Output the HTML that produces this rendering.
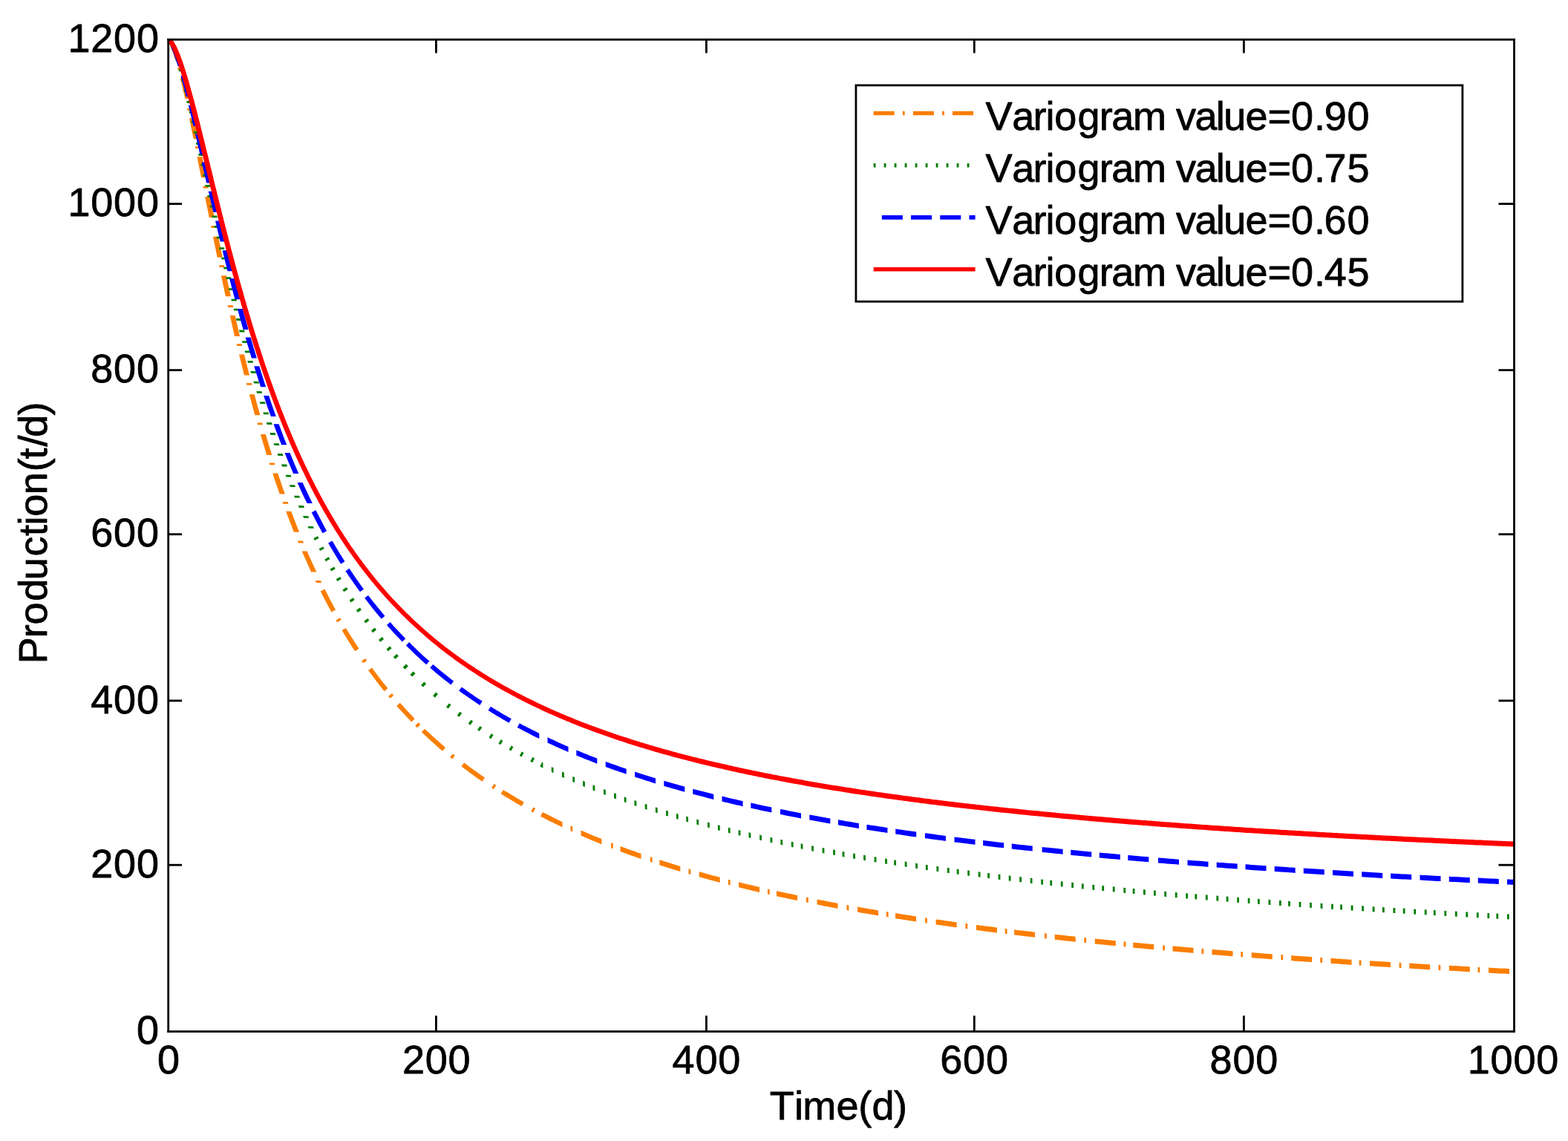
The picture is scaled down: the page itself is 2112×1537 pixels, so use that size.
<!DOCTYPE html>
<html lang="en">
<head>
<meta charset="utf-8">
<title>Production vs Time for different variogram values</title>
<style>
html,body{margin:0;padding:0;background:#fff;}
body{width:2112px;height:1537px;overflow:hidden;}
svg{display:block;position:absolute;left:0;top:0;}
text{font-family:"Liberation Sans",Arial,Helvetica,sans-serif;font-size:54.0px;fill:#000;stroke:#000;stroke-width:0.8px;stroke-linejoin:round;}
.cv{fill:none;stroke-linejoin:round;stroke-linecap:butt;}
.lg{fill:none;stroke-linecap:butt;}
</style>
</head>
<body>
<svg width="2112" height="1537" viewBox="0 0 2112 1537">
<rect x="0" y="0" width="2112" height="1537" fill="#ffffff"/>
<defs><clipPath id="plotclip"><rect x="226.7" y="53.3" width="1812.8" height="1336.2"/></clipPath></defs>
<g id="curves" clip-path="url(#plotclip)">
<path id="curve-orange" fill="#fb7e00" d="M226.7,49.8L232.7,54.9L235.0,59.0L236.9,63.0L238.4,67.0L239.9,70.9L241.2,74.8L242.7,79.7L235.7,79.7L234.8,76.8L233.6,73.0L232.2,69.3L230.8,65.5L229.2,61.8L227.4,58.3L226.7,56.8ZM246.0,91.1L246.8,93.9L239.8,93.9L239.0,91.1ZM249.6,105.0L250.4,108.2L251.4,112.2L252.4,116.2L253.3,120.2L254.2,124.3L255.1,128.3L256.2,133.0L249.2,133.0L248.5,129.8L247.6,125.8L246.6,121.8L245.7,117.8L244.8,113.8L243.8,109.8L242.6,105.0ZM259.1,146.1L259.7,148.9L252.7,148.9L252.1,146.1ZM261.9,159.3L262.6,162.6L263.4,166.6L264.2,170.6L265.1,174.6L265.9,178.6L266.7,182.6L267.7,187.3L260.7,187.3L260.0,184.0L259.2,180.0L258.3,176.0L257.5,172.0L256.7,168.0L255.9,164.0L254.9,159.3ZM269.7,197.3L270.3,200.1L263.2,200.1L262.7,197.3ZM272.5,211.3L273.1,214.6L273.9,218.6L274.7,222.6L275.5,226.6L276.3,230.6L277.1,234.6L278.0,239.3L271.0,239.3L270.4,235.9L269.6,231.9L268.8,227.9L268.0,223.9L267.2,219.9L266.4,215.9L265.5,211.3ZM280.3,250.8L280.9,253.6L273.9,253.6L273.3,250.8ZM283.2,265.0L283.8,268.3L284.6,272.3L285.4,276.3L286.2,280.3L287.0,284.3L287.8,288.3L288.8,293.0L281.7,293.0L281.1,289.7L280.3,285.7L279.5,281.7L278.7,277.7L277.9,273.7L277.1,269.7L276.2,265.0ZM291.0,304.2L291.6,307.0L284.6,307.0L284.0,304.2ZM294.0,318.8L294.6,322.1L295.5,326.1L296.3,330.1L297.1,334.1L297.9,338.1L298.7,342.1L299.7,346.8L292.7,346.8L292.0,343.4L291.2,339.4L290.4,335.4L289.6,331.4L288.7,327.4L287.9,323.4L287.0,318.8ZM301.9,357.2L302.5,360.0L295.5,360.0L294.9,357.2ZM304.9,371.3L305.6,374.5L306.4,378.5L307.3,382.5L308.2,386.5L309.0,390.5L309.9,394.5L310.9,399.3L303.9,399.3L303.2,396.0L302.3,392.0L301.5,388.0L300.6,384.0L299.7,380.0L298.9,376.0L297.9,371.3ZM313.6,411.2L314.2,414.0L307.2,414.0L306.6,411.2ZM316.7,425.0L317.4,428.2L318.3,432.2L319.2,436.2L320.2,440.2L321.1,444.2L322.0,448.2L323.1,453.0L316.1,453.0L315.4,449.8L314.4,445.8L313.5,441.8L312.6,437.8L311.7,433.8L310.8,429.8L309.7,425.0ZM325.6,463.2L326.2,466.0L319.2,466.0L318.6,463.2ZM329.0,477.5L329.8,480.7L330.8,484.7L331.8,488.7L332.8,492.7L333.8,496.7L334.8,500.7L336.0,505.5L329.0,505.5L328.2,502.3L327.2,498.3L326.2,494.3L325.2,490.3L324.2,486.3L323.2,482.3L322.0,477.5ZM338.7,515.9L339.4,518.7L332.4,518.7L331.7,515.9ZM342.7,531.2L343.6,534.4L344.6,538.4L345.7,542.4L346.8,546.4L347.9,550.3L349.0,554.3L350.4,559.2L343.4,559.2L342.5,556.2L341.4,552.2L340.3,548.1L339.2,544.1L338.1,540.1L337.0,536.1L335.7,531.2ZM353.3,569.5L354.1,572.3L347.1,572.3L346.3,569.5ZM357.8,585.0L358.7,588.0L359.9,592.0L361.1,596.0L362.3,600.0L363.5,604.0L364.8,608.0L366.3,613.0L359.3,613.0L358.4,610.0L357.1,606.0L355.9,602.0L354.7,598.0L353.5,594.0L352.3,590.0L350.8,585.0ZM369.6,623.5L370.5,626.3L363.5,626.3L362.6,623.5ZM374.2,637.5L375.2,640.4L376.5,644.4L377.9,648.4L379.2,652.4L380.6,656.4L382.0,660.4L383.8,665.5L376.7,665.5L375.7,662.6L374.3,658.6L372.9,654.6L371.5,650.6L370.2,646.6L368.8,642.6L367.2,637.5ZM387.5,675.9L388.5,678.7L381.4,678.7L380.4,675.9ZM392.2,688.8L393.3,691.6L394.8,695.6L396.3,699.6L397.8,703.6L399.4,707.5L401.0,711.5L403.0,716.8L396.0,716.8L394.8,714.0L393.3,710.0L391.7,705.9L390.1,701.9L388.6,697.9L387.1,693.9L385.1,688.8ZM407.9,728.6L409.0,731.4L401.9,731.4L400.8,728.6ZM413.7,742.5L414.9,745.2L416.6,749.2L418.4,753.2L420.2,757.2L422.0,761.2L423.8,765.1L426.3,770.5L419.1,770.5L417.9,767.9L416.1,763.8L414.3,759.8L412.5,755.8L410.7,751.8L408.9,747.8L406.6,742.5ZM431.8,782.1L433.1,784.9L426.0,784.9L424.6,782.1ZM437.4,793.6L439.4,797.5L441.5,801.5L443.5,805.5L445.6,809.5L447.7,813.5L449.9,817.5L452.0,821.5L446.4,824.5L444.3,820.5L442.1,816.5L440.0,812.5L437.8,808.5L435.8,804.5L433.7,800.5L431.7,796.4ZM458.0,832.3L459.6,835.1L454.1,838.2L452.5,835.4ZM465.9,845.9L468.3,849.9L470.7,853.9L473.2,857.8L475.7,861.8L478.2,865.8L480.8,869.8L483.4,873.8L478.2,877.2L475.5,873.2L472.9,869.2L470.4,865.2L467.9,861.2L465.4,857.1L462.9,853.1L460.5,849.1ZM492.2,887.0L494.2,889.8L489.1,893.3L487.1,890.5ZM501.0,899.4L504.0,903.4L506.9,907.4L509.9,911.4L513.0,915.4L516.0,919.4L519.2,923.3L522.4,927.3L517.6,931.2L514.4,927.2L511.2,923.1L508.1,919.1L505.0,915.1L502.0,911.1L499.0,907.1L496.0,903.1ZM527.8,933.9L530.2,936.7L525.5,940.7L523.1,937.9ZM538.8,946.7L542.0,950.3L545.2,953.9L548.5,957.5L551.8,961.0L555.2,964.6L558.6,968.2L554.2,972.4L550.8,968.8L547.3,965.2L544.0,961.6L540.7,958.0L537.4,954.4L534.2,950.8ZM563.5,973.2L566.3,975.9L562.0,980.3L559.2,977.5ZM572.1,981.7L576.1,985.5L580.1,989.3L584.1,992.9L588.0,996.6L592.0,1000.1L596.0,1003.6L600.0,1007.0L596.0,1011.7L592.0,1008.2L588.0,1004.7L584.0,1001.1L579.9,997.4L575.9,993.7L571.9,989.9L567.9,986.1ZM610.0,1015.4L612.8,1017.7L608.9,1022.4L606.1,1020.1ZM625.1,1027.4L628.6,1030.1L632.1,1032.7L635.6,1035.3L639.1,1037.8L642.6,1040.3L646.0,1042.8L649.5,1045.2L653.0,1047.6L649.5,1052.8L646.0,1050.3L642.5,1047.9L638.9,1045.3L635.4,1042.8L631.9,1040.2L628.4,1037.6L624.9,1035.0L621.4,1032.3ZM665.5,1056.0L668.3,1057.8L664.9,1063.1L662.1,1061.2ZM677.9,1063.9L681.9,1066.4L685.9,1068.8L689.9,1071.2L693.9,1073.6L697.8,1075.9L701.8,1078.2L705.8,1080.5L702.7,1086.0L698.7,1083.7L694.7,1081.4L690.6,1079.0L686.6,1076.6L682.6,1074.2L678.6,1071.8L674.6,1069.3ZM718.3,1087.4L721.1,1088.9L718.1,1094.5L715.3,1093.0ZM731.0,1094.1L735.0,1096.1L738.9,1098.1L742.9,1100.1L746.9,1102.1L750.9,1104.0L754.9,1105.9L757.5,1107.2L757.5,1114.3L752.1,1111.7L748.1,1109.8L744.1,1107.8L740.1,1105.9L736.1,1103.8L732.0,1101.8L728.0,1099.7ZM768.4,1112.2L771.2,1113.5L771.2,1120.6L768.4,1119.3ZM782.5,1118.5L787.8,1120.8L791.8,1122.5L795.8,1124.2L799.8,1125.9L803.7,1127.5L807.7,1129.1L810.5,1130.2L810.5,1137.3L805.3,1135.2L801.3,1133.6L797.2,1131.9L793.2,1130.2L789.2,1128.5L785.2,1126.8L782.5,1125.6ZM823.1,1135.2L825.9,1136.3L825.9,1143.3L823.1,1142.3ZM835.5,1139.9L840.6,1141.8L844.6,1143.3L848.6,1144.7L852.6,1146.1L856.6,1147.5L860.6,1148.9L863.5,1149.9L863.5,1157.0L858.4,1155.2L854.4,1153.8L850.4,1152.4L846.4,1150.9L842.4,1149.5L838.4,1148.0L835.5,1147.0ZM875.8,1154.1L878.6,1155.0L878.6,1162.1L875.8,1161.1ZM888.3,1158.2L893.3,1159.8L897.3,1161.0L901.2,1162.3L905.2,1163.5L909.2,1164.7L913.2,1166.0L916.3,1166.9L916.3,1173.9L911.3,1172.4L907.3,1171.2L903.3,1169.9L899.3,1168.7L895.2,1167.4L891.2,1166.2L888.3,1165.2ZM927.5,1170.2L930.3,1171.0L930.3,1178.0L927.5,1177.2ZM941.7,1174.3L946.7,1175.6L950.6,1176.7L954.6,1177.8L958.6,1178.9L962.6,1180.0L966.6,1181.0L969.7,1181.8L969.7,1188.9L964.9,1187.6L960.9,1186.5L956.9,1185.4L952.9,1184.3L948.9,1183.2L944.8,1182.1L941.7,1181.3ZM980.8,1184.7L983.6,1185.4L983.6,1192.4L980.8,1191.7ZM995.0,1188.3L999.8,1189.4L1003.8,1190.4L1007.8,1191.4L1011.8,1192.3L1015.8,1193.3L1019.8,1194.2L1023.0,1195.0L1023.0,1202.0L1018.2,1200.9L1014.2,1199.9L1010.2,1199.0L1006.2,1198.0L1002.2,1197.0L998.2,1196.1L995.0,1195.3ZM1033.9,1197.4L1036.7,1198.1L1036.7,1205.1L1033.9,1204.5ZM1046.0,1200.1L1050.7,1201.2L1054.7,1202.0L1058.7,1202.9L1062.7,1203.8L1066.7,1204.6L1070.7,1205.4L1074.0,1206.1L1074.0,1213.1L1069.3,1212.2L1065.3,1211.3L1061.3,1210.5L1057.3,1209.6L1053.3,1208.7L1049.3,1207.9L1046.0,1207.2ZM1086.0,1208.6L1088.8,1209.1L1088.8,1216.1L1086.0,1215.6ZM1100.5,1211.5L1105.2,1212.4L1109.2,1213.1L1113.2,1213.9L1117.2,1214.7L1121.2,1215.4L1125.2,1216.2L1128.5,1216.8L1128.5,1223.8L1123.9,1222.9L1119.9,1222.2L1115.9,1221.4L1111.9,1220.7L1107.9,1219.9L1103.9,1219.1L1100.5,1218.5ZM1140.5,1219.0L1143.3,1219.5L1143.3,1226.5L1140.5,1226.0ZM1155.0,1221.6L1159.6,1222.4L1163.6,1223.1L1167.6,1223.8L1171.6,1224.4L1175.6,1225.1L1179.6,1225.8L1183.0,1226.4L1183.0,1233.4L1178.4,1232.6L1174.4,1231.9L1170.4,1231.2L1166.4,1230.6L1162.4,1229.9L1158.4,1229.2L1155.0,1228.6ZM1193.8,1228.1L1196.6,1228.6L1196.6,1235.6L1193.8,1235.1ZM1206.0,1230.1L1210.6,1230.8L1214.6,1231.5L1218.6,1232.1L1222.6,1232.7L1226.6,1233.3L1230.6,1233.9L1234.0,1234.5L1234.0,1241.5L1229.5,1240.8L1225.5,1240.2L1221.5,1239.5L1217.5,1238.9L1213.5,1238.3L1209.5,1237.7L1206.0,1237.1ZM1246.1,1236.3L1248.9,1236.7L1248.9,1243.7L1246.1,1243.3ZM1260.6,1238.4L1265.1,1239.0L1269.1,1239.6L1273.1,1240.2L1277.1,1240.7L1281.1,1241.3L1285.1,1241.9L1288.6,1242.3L1288.6,1249.3L1284.1,1248.7L1280.1,1248.2L1276.1,1247.6L1272.1,1247.0L1268.1,1246.5L1264.1,1245.9L1260.6,1245.4ZM1300.4,1243.9L1303.2,1244.3L1303.2,1251.3L1300.4,1250.9ZM1314.9,1245.9L1319.4,1246.5L1323.4,1247.0L1327.4,1247.5L1331.4,1248.0L1335.4,1248.5L1339.4,1249.0L1342.9,1249.5L1342.9,1256.5L1338.5,1255.9L1334.5,1255.4L1330.5,1254.9L1326.5,1254.4L1322.5,1253.9L1318.5,1253.3L1314.9,1252.9ZM1353.7,1250.8L1356.5,1251.2L1356.5,1258.2L1353.7,1257.8ZM1366.1,1252.3L1370.6,1252.9L1374.6,1253.4L1378.6,1253.8L1382.6,1254.3L1386.6,1254.8L1390.5,1255.2L1394.1,1255.7L1394.1,1262.7L1389.7,1262.1L1385.7,1261.7L1381.7,1261.2L1377.7,1260.7L1373.7,1260.3L1369.7,1259.8L1366.1,1259.3ZM1407.0,1257.1L1409.8,1257.4L1409.8,1264.4L1407.0,1264.1ZM1420.7,1258.7L1425.1,1259.2L1429.1,1259.6L1433.1,1260.0L1437.1,1260.5L1441.1,1260.9L1445.1,1261.3L1448.7,1261.7L1448.7,1268.7L1444.4,1268.2L1440.4,1267.8L1436.4,1267.4L1432.4,1266.9L1428.3,1266.5L1424.3,1266.1L1420.7,1265.7ZM1460.3,1262.9L1463.1,1263.2L1463.1,1270.2L1460.3,1269.9ZM1474.8,1264.4L1479.2,1264.9L1483.2,1265.3L1487.2,1265.7L1491.2,1266.1L1495.2,1266.5L1499.2,1266.9L1502.8,1267.2L1502.8,1274.2L1498.5,1273.8L1494.5,1273.4L1490.5,1273.0L1486.5,1272.6L1482.5,1272.2L1478.5,1271.8L1474.8,1271.4ZM1513.6,1268.3L1516.4,1268.6L1516.4,1275.6L1513.6,1275.3ZM1526.2,1269.5L1530.6,1269.9L1534.6,1270.3L1538.6,1270.7L1542.6,1271.0L1546.6,1271.4L1550.6,1271.8L1554.2,1272.1L1554.2,1279.1L1549.9,1278.7L1545.9,1278.4L1541.9,1278.0L1537.9,1277.6L1533.9,1277.2L1529.9,1276.9L1526.2,1276.5ZM1566.2,1273.2L1569.0,1273.5L1569.0,1280.5L1566.2,1280.2ZM1579.5,1274.4L1583.8,1274.8L1587.8,1275.1L1591.8,1275.5L1595.8,1275.8L1599.8,1276.2L1603.8,1276.5L1607.5,1276.8L1607.5,1283.8L1603.2,1283.4L1599.2,1283.1L1595.2,1282.8L1591.2,1282.4L1587.2,1282.1L1583.2,1281.7L1579.5,1281.4ZM1618.4,1277.7L1621.2,1278.0L1621.2,1285.0L1618.4,1284.7ZM1632.5,1278.9L1636.3,1279.2L1639.8,1279.5L1643.3,1279.8L1646.8,1280.1L1650.3,1280.3L1653.8,1280.6L1657.3,1280.9L1660.5,1281.2L1660.5,1288.2L1656.7,1287.9L1653.2,1287.6L1649.7,1287.3L1646.2,1287.0L1642.7,1286.7L1639.2,1286.4L1635.7,1286.2L1632.5,1285.9ZM1671.3,1282.0L1674.1,1282.2L1674.1,1289.2L1671.3,1289.0ZM1685.8,1283.1L1690.0,1283.5L1694.0,1283.8L1698.0,1284.1L1702.0,1284.4L1706.0,1284.7L1710.0,1285.0L1713.8,1285.2L1713.8,1292.2L1709.5,1291.9L1705.5,1291.6L1701.5,1291.3L1697.5,1291.0L1693.5,1290.7L1689.5,1290.4L1685.8,1290.1ZM1725.4,1286.1L1728.2,1286.3L1728.2,1293.3L1725.4,1293.1ZM1739.2,1287.1L1743.5,1287.4L1747.5,1287.7L1751.5,1288.0L1755.5,1288.3L1759.5,1288.5L1763.5,1288.8L1767.2,1289.1L1767.2,1296.1L1763.0,1295.8L1759.0,1295.5L1755.0,1295.2L1751.0,1294.9L1747.0,1294.7L1743.0,1294.4L1739.2,1294.1ZM1778.3,1289.8L1781.1,1290.0L1781.1,1297.0L1778.3,1296.8ZM1792.5,1290.8L1796.7,1291.1L1800.7,1291.4L1804.7,1291.6L1808.7,1291.9L1812.7,1292.2L1816.7,1292.4L1820.5,1292.7L1820.5,1299.7L1816.3,1299.4L1812.3,1299.1L1808.3,1298.9L1804.3,1298.6L1800.3,1298.3L1796.3,1298.1L1792.5,1297.8ZM1830.7,1293.3L1833.5,1293.5L1833.5,1300.5L1830.7,1300.3ZM1845.0,1294.2L1849.2,1294.5L1853.2,1294.8L1857.2,1295.0L1861.2,1295.3L1865.2,1295.5L1869.2,1295.8L1873.0,1296.0L1873.0,1303.0L1868.8,1302.7L1864.8,1302.5L1860.8,1302.2L1856.8,1302.0L1852.8,1301.7L1848.8,1301.5L1845.0,1301.2ZM1884.6,1296.7L1887.4,1296.9L1887.4,1303.9L1884.6,1303.7ZM1898.2,1297.5L1902.5,1297.8L1906.5,1298.0L1910.5,1298.2L1914.5,1298.5L1918.5,1298.7L1922.5,1298.9L1926.2,1299.2L1926.2,1306.2L1922.0,1305.9L1918.0,1305.7L1914.0,1305.5L1910.0,1305.2L1906.0,1305.0L1902.0,1304.7L1898.2,1304.5ZM1937.5,1299.8L1940.3,1300.0L1940.3,1307.0L1937.5,1306.8ZM1951.8,1300.6L1955.9,1300.9L1959.9,1301.1L1963.9,1301.3L1967.9,1301.5L1971.9,1301.7L1975.9,1302.0L1979.8,1302.2L1979.8,1309.2L1975.6,1308.9L1971.6,1308.7L1967.6,1308.5L1963.6,1308.3L1959.6,1308.1L1955.6,1307.8L1951.8,1307.6ZM1990.5,1302.8L1993.3,1302.9L1993.3,1309.9L1990.5,1309.8ZM2005.0,1303.5L2009.2,1303.8L2013.2,1304.0L2017.2,1304.2L2021.2,1304.4L2025.2,1304.6L2029.2,1304.8L2033.0,1305.0L2033.0,1312.0L2028.8,1311.8L2024.8,1311.6L2020.8,1311.4L2016.8,1311.2L2012.8,1311.0L2008.8,1310.7L2005.0,1310.5Z"/>
<path id="curve-green" fill="#007e00" d="M226.7,49.8L231.4,53.2L226.6,57.0L226.7,56.8ZM238.1,65.6L239.2,68.4L232.1,68.4L231.0,65.6ZM243.2,80.0L244.1,82.8L237.1,82.8L236.2,80.0ZM247.3,93.5L248.1,96.3L241.1,96.3L240.3,93.5ZM250.9,106.8L251.7,109.6L244.6,109.6L243.9,106.8ZM254.6,121.1L255.2,123.9L248.2,123.9L247.5,121.1ZM258.2,136.1L258.8,138.9L251.8,138.9L251.2,136.1ZM261.4,149.8L262.0,152.6L255.0,152.6L254.4,149.8ZM264.4,163.1L265.0,165.9L258.0,165.9L257.4,163.1ZM267.5,177.1L268.1,179.9L261.1,179.9L260.5,177.1ZM270.8,192.1L271.4,194.9L264.4,194.9L263.8,192.1ZM274.1,207.1L274.7,209.9L267.7,209.9L267.1,207.1ZM277.1,221.0L277.7,223.8L270.7,223.8L270.1,221.0ZM280.1,235.0L280.7,237.8L273.7,237.8L273.1,235.0ZM283.1,248.9L283.7,251.7L276.7,251.7L276.1,248.9ZM286.1,262.9L286.8,265.7L279.8,265.7L279.1,262.9ZM289.2,276.7L289.8,279.5L282.8,279.5L282.2,276.7ZM292.2,290.4L292.8,293.2L285.8,293.2L285.2,290.4ZM295.2,304.1L295.8,306.9L288.8,306.9L288.2,304.1ZM298.5,318.7L299.1,321.5L292.1,321.5L291.5,318.7ZM301.8,333.2L302.4,336.0L295.4,336.0L294.8,333.2ZM304.9,346.7L305.5,349.5L298.5,349.5L297.9,346.7ZM307.9,359.7L308.6,362.5L301.6,362.5L300.9,359.7ZM311.1,373.2L311.8,376.0L304.8,376.0L304.1,373.2ZM314.7,388.3L315.4,391.1L308.4,391.1L307.7,388.3ZM318.3,402.7L319.0,405.5L311.9,405.5L311.3,402.7ZM321.6,415.8L322.3,418.6L315.3,418.6L314.5,415.8ZM324.9,429.1L325.7,431.9L318.7,431.9L317.9,429.1ZM329.0,444.6L329.7,447.4L322.7,447.4L322.0,444.6ZM332.9,459.2L333.6,462.0L326.6,462.0L325.9,459.2ZM336.5,472.5L337.3,475.3L330.3,475.3L329.5,472.5ZM340.3,485.9L341.0,488.7L334.0,488.7L333.2,485.9ZM344.3,500.0L345.1,502.8L338.1,502.8L337.3,500.0ZM348.3,513.7L349.1,516.5L342.1,516.5L341.3,513.7ZM352.3,527.0L353.2,529.8L346.2,529.8L345.3,527.0ZM356.7,541.2L357.6,544.0L350.6,544.0L349.7,541.2ZM361.3,555.4L362.2,558.2L355.1,558.2L354.2,555.4ZM365.8,569.1L366.7,571.9L359.7,571.9L358.8,569.1ZM370.5,583.1L371.5,585.9L364.4,585.9L363.5,583.1ZM375.5,597.3L376.5,600.1L369.5,600.1L368.5,597.3ZM380.5,611.1L381.6,613.9L374.5,613.9L373.5,611.1ZM385.9,625.6L387.0,628.4L380.0,628.4L378.9,625.6ZM391.4,639.7L392.6,642.5L385.5,642.5L384.4,639.7ZM396.9,653.3L398.1,656.1L391.0,656.1L389.8,653.3ZM403.0,667.8L404.2,670.6L397.1,670.6L395.9,667.8ZM408.8,681.1L410.0,683.9L402.9,683.9L401.7,681.1ZM415.0,695.0L416.3,697.8L409.2,697.8L407.9,695.0ZM421.6,709.0L423.0,711.8L415.8,711.8L414.5,709.0ZM428.1,722.3L429.5,725.1L423.8,728.0L422.4,725.1ZM435.3,736.2L436.7,739.0L431.1,742.0L429.6,739.2ZM442.8,750.3L444.4,753.1L438.8,756.2L437.3,753.4ZM450.1,763.4L451.7,766.2L446.3,769.4L444.6,766.5ZM458.1,777.0L459.8,779.8L454.4,783.1L452.7,780.3ZM466.7,791.1L468.5,793.9L463.2,797.2L461.4,794.4ZM475.8,805.2L477.7,808.0L472.5,811.5L470.6,808.6ZM484.9,818.6L486.9,821.4L481.8,825.0L479.9,822.1ZM495.3,833.0L497.4,835.8L492.4,839.5L490.3,836.7ZM504.8,845.6L507.0,848.4L502.2,852.2L500.0,849.4ZM514.7,858.1L517.0,860.9L512.3,864.8L510.0,862.0ZM525.1,870.4L527.5,873.2L522.9,877.2L520.4,874.4ZM534.3,880.9L536.9,883.7L532.4,887.8L529.8,885.0ZM547.1,894.6L549.8,897.4L545.4,901.7L542.7,898.8ZM556.7,904.4L559.5,907.2L555.2,911.5L552.4,908.7ZM571.3,918.5L574.1,921.0L570.0,925.5L567.1,922.9ZM587.1,932.6L589.9,935.0L585.9,939.7L583.1,937.2ZM604.8,947.4L607.6,949.6L603.8,954.4L601.0,952.2ZM619.4,958.8L622.2,960.8L618.5,965.8L615.7,963.7ZM634.3,969.7L637.1,971.6L633.5,976.7L630.7,974.7ZM646.5,978.1L649.3,980.0L645.8,985.1L643.0,983.2ZM661.8,988.2L664.6,989.9L661.3,995.2L658.5,993.4ZM674.7,996.2L677.4,997.8L674.2,1003.2L671.4,1001.5ZM688.7,1004.4L691.5,1006.0L688.3,1011.5L685.5,1009.9ZM702.8,1012.4L705.6,1013.9L702.6,1019.5L699.8,1018.0ZM717.3,1020.1L720.1,1021.6L717.1,1027.3L714.3,1025.8ZM730.1,1026.7L731.4,1027.3L731.4,1034.5L727.2,1032.4ZM742.8,1032.9L745.5,1034.2L745.5,1041.3L742.8,1040.0ZM757.0,1039.5L759.8,1040.8L759.8,1047.9L757.0,1046.7ZM771.3,1045.9L774.1,1047.1L774.1,1054.2L771.3,1053.0ZM785.1,1051.8L787.9,1053.0L787.9,1060.1L785.1,1058.9ZM798.5,1057.3L801.3,1058.4L801.3,1065.5L798.5,1064.4ZM813.0,1063.0L815.8,1064.0L815.8,1071.1L813.0,1070.0ZM827.1,1068.3L829.9,1069.3L829.9,1076.4L827.1,1075.3ZM840.7,1073.2L843.5,1074.2L843.5,1081.2L840.7,1080.3ZM854.5,1078.0L857.3,1079.0L857.3,1086.0L854.5,1085.1ZM868.7,1082.8L871.5,1083.7L871.5,1090.7L868.7,1089.8ZM882.9,1087.3L885.7,1088.2L885.7,1095.3L882.9,1094.4ZM897.1,1091.7L899.9,1092.6L899.9,1099.6L897.1,1098.8ZM910.9,1095.8L913.7,1096.7L913.7,1103.7L910.9,1102.9ZM924.2,1099.7L927.0,1100.5L927.0,1107.5L924.2,1106.7ZM938.3,1103.6L941.1,1104.4L941.1,1111.4L938.3,1110.6ZM953.0,1107.6L955.8,1108.3L955.8,1115.3L953.0,1114.6ZM966.9,1111.2L969.7,1111.9L969.7,1118.9L966.9,1118.2ZM980.8,1114.7L983.6,1115.4L983.6,1122.4L980.8,1121.7ZM994.6,1118.0L997.4,1118.7L997.4,1125.7L994.6,1125.0ZM1008.5,1121.3L1011.3,1122.0L1011.3,1129.0L1008.5,1128.3ZM1023.1,1124.6L1025.9,1125.2L1025.9,1132.3L1023.1,1131.6ZM1037.5,1127.8L1040.3,1128.4L1040.3,1135.4L1037.5,1134.8ZM1051.4,1130.8L1054.2,1131.4L1054.2,1138.4L1051.4,1137.8ZM1065.8,1133.8L1068.6,1134.3L1068.6,1141.4L1065.8,1140.8ZM1078.6,1136.3L1081.4,1136.9L1081.4,1143.9L1078.6,1143.3ZM1093.1,1139.2L1095.9,1139.7L1095.9,1146.7L1093.1,1146.2ZM1107.6,1141.9L1110.4,1142.5L1110.4,1149.5L1107.6,1148.9ZM1122.1,1144.6L1124.9,1145.1L1124.9,1152.1L1122.1,1151.6ZM1134.6,1146.9L1137.4,1147.4L1137.4,1154.4L1134.6,1153.9ZM1149.1,1149.4L1151.9,1149.9L1151.9,1156.9L1149.1,1156.4ZM1163.1,1151.8L1165.9,1152.2L1165.9,1159.2L1163.1,1158.8ZM1177.6,1154.2L1180.4,1154.6L1180.4,1161.6L1177.6,1161.2ZM1192.1,1156.5L1194.9,1156.9L1194.9,1163.9L1192.1,1163.5ZM1204.2,1158.4L1207.0,1158.8L1207.0,1165.8L1204.2,1165.4ZM1218.7,1160.6L1221.5,1161.0L1221.5,1168.0L1218.7,1167.6ZM1233.1,1162.8L1235.9,1163.2L1235.9,1170.2L1233.1,1169.8ZM1246.9,1164.8L1249.7,1165.2L1249.7,1172.2L1246.9,1171.8ZM1261.4,1166.8L1264.2,1167.2L1264.2,1174.2L1261.4,1173.8ZM1275.9,1168.8L1278.7,1169.2L1278.7,1176.2L1275.9,1175.8ZM1288.7,1170.6L1291.5,1170.9L1291.5,1177.9L1288.7,1177.6ZM1303.2,1172.5L1306.0,1172.8L1306.0,1179.8L1303.2,1179.5ZM1317.7,1174.3L1320.5,1174.7L1320.5,1181.7L1317.7,1181.3ZM1330.2,1175.9L1333.0,1176.3L1333.0,1183.3L1330.2,1182.9ZM1344.6,1177.7L1347.4,1178.0L1347.4,1185.0L1344.6,1184.7ZM1358.7,1179.4L1361.5,1179.7L1361.5,1186.7L1358.7,1186.4ZM1373.2,1181.1L1376.0,1181.4L1376.0,1188.4L1373.2,1188.1ZM1387.7,1182.7L1390.5,1183.1L1390.5,1190.1L1387.7,1189.7ZM1402.2,1184.4L1405.0,1184.7L1405.0,1191.7L1402.2,1191.4ZM1414.3,1185.7L1417.1,1186.0L1417.1,1193.0L1414.3,1192.7ZM1428.8,1187.3L1431.6,1187.6L1431.6,1194.6L1428.8,1194.3ZM1443.2,1188.8L1446.0,1189.1L1446.0,1196.1L1443.2,1195.8ZM1456.9,1190.2L1459.7,1190.5L1459.7,1197.5L1456.9,1197.2ZM1471.4,1191.7L1474.2,1191.9L1474.2,1198.9L1471.4,1198.7ZM1484.3,1192.9L1487.1,1193.2L1487.1,1200.2L1484.3,1199.9ZM1498.8,1194.3L1501.6,1194.6L1501.6,1201.6L1498.8,1201.3ZM1513.3,1195.7L1516.1,1196.0L1516.1,1203.0L1513.3,1202.7ZM1525.7,1196.9L1528.5,1197.1L1528.5,1204.1L1525.7,1203.9ZM1540.0,1198.2L1542.8,1198.4L1542.8,1205.4L1540.0,1205.2ZM1554.0,1199.4L1556.8,1199.7L1556.8,1206.7L1554.0,1206.4ZM1568.3,1200.7L1571.1,1200.9L1571.1,1207.9L1568.3,1207.7ZM1582.8,1201.9L1585.6,1202.2L1585.6,1209.2L1582.8,1208.9ZM1597.3,1203.2L1600.1,1203.4L1600.1,1210.4L1597.3,1210.2ZM1609.4,1204.2L1612.2,1204.4L1612.2,1211.4L1609.4,1211.2ZM1623.9,1205.4L1626.7,1205.6L1626.7,1212.6L1623.9,1212.4ZM1638.4,1206.5L1641.2,1206.7L1641.2,1213.7L1638.4,1213.5ZM1651.7,1207.6L1654.5,1207.8L1654.5,1214.8L1651.7,1214.6ZM1666.2,1208.7L1669.0,1208.9L1669.0,1215.9L1666.2,1215.7ZM1680.7,1209.8L1683.5,1210.0L1683.5,1217.0L1680.7,1216.8ZM1694.0,1210.8L1696.8,1211.0L1696.8,1218.0L1694.0,1217.8ZM1708.5,1211.8L1711.3,1212.0L1711.3,1219.0L1708.5,1218.8ZM1723.0,1212.9L1725.8,1213.1L1725.8,1220.1L1723.0,1219.9ZM1735.1,1213.7L1737.9,1213.9L1737.9,1220.9L1735.1,1220.7ZM1749.6,1214.7L1752.4,1214.9L1752.4,1221.9L1749.6,1221.7ZM1764.1,1215.7L1766.9,1215.9L1766.9,1222.9L1764.1,1222.7ZM1778.6,1216.7L1781.4,1216.9L1781.4,1223.9L1778.6,1223.7ZM1793.1,1217.7L1795.9,1217.8L1795.9,1224.8L1793.1,1224.7ZM1805.2,1218.4L1808.0,1218.6L1808.0,1225.6L1805.2,1225.4ZM1819.7,1219.4L1822.5,1219.5L1822.5,1226.5L1819.7,1226.4ZM1834.2,1220.3L1837.0,1220.5L1837.0,1227.5L1834.2,1227.3ZM1848.7,1221.2L1851.5,1221.4L1851.5,1228.4L1848.7,1228.2ZM1862.0,1222.0L1864.8,1222.2L1864.8,1229.2L1862.0,1229.0ZM1876.5,1222.9L1879.3,1223.0L1879.3,1230.0L1876.5,1229.9ZM1889.8,1223.6L1892.6,1223.8L1892.6,1230.8L1889.8,1230.6ZM1904.3,1224.5L1907.1,1224.7L1907.1,1231.7L1904.3,1231.5ZM1918.8,1225.3L1921.6,1225.5L1921.6,1232.5L1918.8,1232.3ZM1930.9,1226.0L1933.7,1226.2L1933.7,1233.2L1930.9,1233.0ZM1945.4,1226.8L1948.2,1227.0L1948.2,1234.0L1945.4,1233.8ZM1959.9,1227.6L1962.7,1227.8L1962.7,1234.8L1959.9,1234.6ZM1974.4,1228.4L1977.2,1228.5L1977.2,1235.5L1974.4,1235.4ZM1988.9,1229.2L1991.7,1229.3L1991.7,1236.3L1988.9,1236.2ZM2003.4,1229.9L2006.2,1230.1L2006.2,1237.1L2003.4,1236.9ZM2015.4,1230.5L2018.2,1230.7L2018.2,1237.7L2015.4,1237.5ZM2030.0,1231.3L2032.8,1231.4L2032.8,1238.4L2030.0,1238.3Z"/>
<path id="curve-blue" fill="#0000ff" d="M236.5,61.6L237.5,63.8L239.1,67.4L240.5,70.9L241.8,74.5L243.0,78.0L244.2,81.5L245.3,85.1L246.7,89.6L239.7,89.6L238.9,87.1L237.8,83.6L236.7,80.2L235.5,76.7L234.3,73.2L233.0,69.8L231.6,66.4L229.4,61.6ZM250.4,102.2L251.3,105.3L252.4,109.3L253.5,113.3L254.5,117.4L255.6,121.4L256.6,125.4L257.8,130.2L250.8,130.2L250.0,127.1L249.0,123.1L248.0,119.1L246.9,115.1L245.9,111.1L244.8,107.1L243.4,102.2ZM260.7,141.8L261.5,145.0L262.5,149.0L263.5,153.0L264.4,157.0L265.4,161.0L266.3,165.0L267.4,169.8L260.4,169.8L259.7,166.6L258.7,162.6L257.8,158.6L256.8,154.6L255.9,150.6L254.9,146.6L253.7,141.8ZM270.0,180.5L270.7,183.7L271.6,187.7L272.6,191.7L273.5,195.7L274.4,199.7L275.3,203.7L276.4,208.5L269.4,208.5L268.7,205.3L267.8,201.3L266.8,197.3L265.9,193.3L265.0,189.3L264.1,185.3L262.9,180.5ZM278.7,218.5L279.5,221.8L280.4,225.8L281.3,229.8L282.2,233.8L283.1,237.8L284.1,241.8L285.2,246.5L278.1,246.5L277.4,243.3L276.5,239.3L275.6,235.3L274.6,231.3L273.7,227.3L272.8,223.3L271.7,218.5ZM287.8,257.8L288.5,261.1L289.4,265.1L290.4,269.1L291.3,273.1L292.2,277.1L293.1,281.1L294.3,285.8L287.3,285.8L286.5,282.6L285.6,278.6L284.6,274.6L283.7,270.6L282.8,266.6L281.8,262.6L280.7,257.8ZM297.0,297.4L297.7,300.6L298.7,304.6L299.6,308.6L300.6,312.6L301.6,316.6L302.5,320.6L303.7,325.4L296.7,325.4L295.9,322.2L294.9,318.2L294.0,314.2L293.0,310.2L292.1,306.2L291.1,302.2L290.0,297.4ZM306.6,337.2L307.3,340.4L308.3,344.4L309.3,348.4L310.3,352.4L311.3,356.4L312.3,360.4L313.5,365.2L306.5,365.2L305.7,362.1L304.7,358.1L303.7,354.1L302.7,350.1L301.7,346.0L300.7,342.0L299.6,337.2ZM316.1,375.3L316.9,378.5L317.9,382.5L319.0,386.5L320.0,390.5L321.1,394.5L322.1,398.4L323.4,403.3L316.4,403.3L315.6,400.2L314.5,396.2L313.5,392.2L312.4,388.2L311.4,384.2L310.3,380.2L309.1,375.3ZM326.9,416.1L327.7,419.2L328.8,423.2L329.9,427.2L331.0,431.2L332.1,435.2L333.3,439.2L334.6,444.1L327.6,444.1L326.8,441.1L325.6,437.1L324.5,433.0L323.4,429.0L322.3,425.0L321.2,421.0L319.9,416.1ZM337.6,454.5L338.5,457.5L339.7,461.5L340.8,465.5L342.0,469.5L343.2,473.5L344.4,477.5L345.9,482.5L338.9,482.5L338.0,479.4L336.8,475.4L335.6,471.4L334.4,467.4L333.2,463.4L332.0,459.4L330.6,454.5ZM349.2,493.2L350.2,496.2L351.4,500.2L352.7,504.2L354.0,508.2L355.2,512.2L356.5,516.2L358.2,521.2L351.1,521.2L350.2,518.3L348.9,514.3L347.6,510.3L346.3,506.2L345.0,502.2L343.8,498.2L342.2,493.2ZM362.1,533.0L363.1,535.9L364.4,539.9L365.8,543.9L367.2,547.9L368.6,551.9L370.0,555.9L371.8,561.0L364.8,561.0L363.8,558.1L362.3,554.1L360.9,550.1L359.5,546.1L358.1,542.1L356.8,538.1L355.1,533.0ZM375.6,571.2L376.6,574.1L378.1,578.1L379.6,582.1L381.1,586.1L382.6,590.1L384.2,594.1L386.2,599.2L379.1,599.2L378.1,596.4L376.5,592.4L375.0,588.4L373.4,584.4L371.9,580.4L370.4,576.4L368.5,571.2ZM390.5,610.0L391.6,612.8L393.3,616.7L394.9,620.7L396.6,624.7L398.3,628.7L400.0,632.7L402.3,638.0L395.2,638.0L394.0,635.3L392.3,631.3L390.6,627.3L388.9,623.3L387.2,619.3L385.6,615.2L383.4,610.0ZM407.6,650.0L408.8,652.7L410.6,656.6L412.5,660.6L414.4,664.6L416.2,668.6L418.2,672.6L420.8,678.0L413.6,678.0L412.4,675.4L410.4,671.4L408.5,667.4L406.6,663.4L404.8,659.4L402.9,655.3L400.5,650.0ZM425.4,687.3L427.4,691.3L429.5,695.3L431.6,699.3L433.7,703.3L435.8,707.2L437.9,711.2L440.1,715.2L434.6,718.3L432.3,714.3L430.2,710.3L428.0,706.2L425.9,702.2L423.8,698.2L421.7,694.2L419.7,690.2ZM447.6,728.4L449.9,732.4L452.2,736.4L454.6,740.4L457.0,744.4L459.4,748.3L461.9,752.3L464.4,756.3L459.2,759.7L456.6,755.7L454.1,751.7L451.6,747.6L449.2,743.6L446.8,739.6L444.4,735.6L442.1,731.6ZM470.6,765.8L473.2,769.8L475.9,773.8L478.6,777.7L481.4,781.7L484.2,785.7L487.0,789.7L489.9,793.7L484.9,797.3L482.0,793.3L479.1,789.3L476.3,785.3L473.5,781.3L470.7,777.2L468.0,773.2L465.4,769.2ZM496.0,801.9L499.1,805.9L502.2,809.9L505.3,813.8L508.5,817.8L511.8,821.8L515.1,825.8L518.4,829.8L513.8,833.7L510.4,829.7L507.0,825.7L503.7,821.7L500.5,817.7L497.3,813.6L494.2,809.6L491.1,805.6ZM525.6,838.0L528.8,841.7L532.2,845.4L535.6,849.1L539.1,852.8L542.6,856.5L546.2,860.2L541.8,864.4L538.2,860.7L534.6,857.0L531.1,853.2L527.7,849.5L524.3,845.8L521.0,842.0ZM551.1,865.1L555.0,869.0L558.9,872.7L562.7,876.5L566.6,880.1L570.5,883.7L574.4,887.2L578.3,890.6L574.2,895.2L570.3,891.7L566.4,888.2L562.5,884.6L558.6,880.9L554.6,877.1L550.7,873.3L546.8,869.5ZM583.2,894.9L587.2,898.3L591.2,901.7L595.2,904.9L599.2,908.2L603.2,911.3L607.1,914.4L611.1,917.5L607.4,922.4L603.4,919.3L599.3,916.2L595.3,912.9L591.3,909.7L587.3,906.4L583.3,903.0L579.3,899.6ZM621.8,925.5L625.8,928.3L629.8,931.2L633.8,933.9L637.8,936.7L641.7,939.4L645.7,942.0L649.7,944.6L646.3,949.9L642.3,947.2L638.3,944.6L634.2,941.8L630.2,939.1L626.2,936.2L622.2,933.4L618.2,930.5ZM660.9,951.8L664.9,954.2L668.9,956.7L672.9,959.0L676.8,961.4L680.8,963.7L684.8,966.0L688.8,968.2L685.7,973.8L681.7,971.5L677.7,969.2L673.7,966.8L669.6,964.5L665.6,962.0L661.6,959.6L657.6,957.1ZM699.8,974.3L703.7,976.4L707.7,978.5L711.7,980.6L715.7,982.6L719.7,984.6L723.7,986.6L726.3,987.9L726.3,995.0L720.8,992.4L716.8,990.4L712.8,988.3L708.8,986.3L704.8,984.2L700.8,982.0L696.7,979.9ZM737.5,993.3L742.9,995.8L746.9,997.6L750.8,999.4L754.8,1001.2L758.8,1003.0L762.8,1004.7L765.5,1005.9L765.5,1013.0L760.2,1010.7L756.2,1009.0L752.2,1007.2L748.2,1005.4L744.1,1003.5L740.1,1001.7L737.5,1000.4ZM776.3,1010.4L781.5,1012.6L785.5,1014.2L789.5,1015.8L793.5,1017.4L797.4,1019.0L801.4,1020.5L804.3,1021.6L804.3,1028.7L799.1,1026.7L795.1,1025.1L791.0,1023.5L787.0,1021.9L783.0,1020.3L779.0,1018.7L776.3,1017.5ZM815.7,1025.9L820.9,1027.8L824.9,1029.2L828.9,1030.6L832.9,1032.0L836.8,1033.4L840.8,1034.8L843.7,1035.8L843.7,1042.8L838.7,1041.1L834.7,1039.7L830.6,1038.3L826.6,1036.9L822.6,1035.5L818.6,1034.0L815.7,1033.0ZM855.0,1039.5L860.0,1041.2L864.0,1042.5L868.0,1043.7L872.0,1045.0L876.0,1046.2L880.0,1047.5L883.0,1048.4L883.0,1055.4L878.0,1053.9L874.0,1052.6L870.0,1051.4L866.0,1050.1L862.0,1048.8L858.0,1047.5L855.0,1046.6ZM894.3,1051.7L899.2,1053.2L903.2,1054.3L907.2,1055.5L911.2,1056.6L915.2,1057.7L919.2,1058.8L922.3,1059.7L922.3,1066.7L917.3,1065.4L913.3,1064.2L909.3,1063.1L905.3,1062.0L901.3,1060.8L897.3,1059.7L894.3,1058.8ZM933.3,1062.7L938.1,1064.0L942.1,1065.0L946.1,1066.0L950.1,1067.1L954.1,1068.1L958.1,1069.1L961.3,1069.9L961.3,1076.9L956.4,1075.7L952.4,1074.7L948.4,1073.6L944.4,1072.6L940.4,1071.6L936.4,1070.5L933.3,1069.7ZM972.5,1072.6L977.3,1073.8L981.3,1074.7L985.3,1075.7L989.3,1076.6L993.3,1077.5L997.3,1078.4L1000.5,1079.1L1000.5,1086.2L995.7,1085.1L991.7,1084.2L987.7,1083.2L983.7,1082.3L979.7,1081.3L975.7,1080.4L972.5,1079.6ZM1011.3,1081.5L1016.0,1082.6L1020.0,1083.4L1024.0,1084.3L1028.0,1085.2L1032.0,1086.0L1035.9,1086.8L1039.3,1087.5L1039.3,1094.5L1034.6,1093.5L1030.5,1092.7L1026.5,1091.9L1022.5,1091.0L1018.5,1090.1L1014.5,1089.3L1011.3,1088.6ZM1051.0,1089.9L1055.6,1090.8L1059.6,1091.6L1063.6,1092.4L1067.6,1093.2L1071.6,1094.0L1075.6,1094.7L1079.0,1095.4L1079.0,1102.4L1074.3,1101.5L1070.3,1100.7L1066.3,1099.9L1062.3,1099.2L1058.3,1098.4L1054.3,1097.6L1051.0,1096.9ZM1090.3,1097.5L1094.9,1098.3L1098.9,1099.1L1102.9,1099.8L1106.9,1100.5L1110.9,1101.2L1114.9,1101.9L1118.3,1102.5L1118.3,1109.5L1113.7,1108.7L1109.7,1108.0L1105.7,1107.3L1101.7,1106.6L1097.7,1105.8L1093.7,1105.1L1090.3,1104.5ZM1128.9,1104.3L1133.5,1105.1L1137.4,1105.8L1141.4,1106.4L1145.4,1107.1L1149.4,1107.8L1153.4,1108.4L1156.9,1109.0L1156.9,1116.0L1152.3,1115.2L1148.3,1114.6L1144.3,1113.9L1140.3,1113.3L1136.3,1112.6L1132.3,1111.9L1128.9,1111.3ZM1167.4,1110.7L1172.0,1111.4L1176.0,1112.0L1180.0,1112.6L1184.0,1113.2L1188.0,1113.8L1192.0,1114.4L1195.4,1115.0L1195.4,1122.0L1190.9,1121.3L1186.9,1120.7L1182.9,1120.1L1178.9,1119.5L1174.9,1118.8L1170.9,1118.2L1167.4,1117.7ZM1206.2,1116.6L1210.7,1117.2L1214.7,1117.8L1218.7,1118.4L1222.7,1118.9L1226.7,1119.5L1230.7,1120.1L1234.2,1120.5L1234.2,1127.5L1229.7,1126.9L1225.7,1126.4L1221.7,1125.8L1217.7,1125.2L1213.7,1124.6L1209.7,1124.1L1206.2,1123.6ZM1245.9,1122.2L1250.4,1122.8L1254.4,1123.3L1258.4,1123.8L1262.4,1124.4L1266.4,1124.9L1270.4,1125.4L1273.9,1125.9L1273.9,1132.9L1269.5,1132.3L1265.5,1131.8L1261.5,1131.2L1257.5,1130.7L1253.5,1130.2L1249.4,1129.6L1245.9,1129.2ZM1285.5,1127.4L1290.0,1127.9L1294.0,1128.4L1298.0,1128.9L1302.0,1129.4L1306.0,1129.9L1310.0,1130.4L1313.5,1130.8L1313.5,1137.8L1309.1,1137.3L1305.1,1136.8L1301.1,1136.3L1297.1,1135.8L1293.1,1135.3L1289.1,1134.8L1285.5,1134.4ZM1324.1,1132.1L1328.5,1132.6L1332.5,1133.1L1336.5,1133.5L1340.5,1134.0L1344.5,1134.5L1348.5,1134.9L1352.1,1135.3L1352.1,1142.3L1347.7,1141.8L1343.7,1141.4L1339.7,1140.9L1335.7,1140.5L1331.7,1140.0L1327.7,1139.5L1324.1,1139.1ZM1362.7,1136.5L1367.1,1137.0L1371.0,1137.4L1375.0,1137.9L1379.0,1138.3L1383.0,1138.7L1387.0,1139.2L1390.7,1139.6L1390.7,1146.6L1386.3,1146.1L1382.3,1145.7L1378.3,1145.2L1374.3,1144.8L1370.3,1144.4L1366.3,1143.9L1362.7,1143.5ZM1403.6,1140.9L1408.0,1141.4L1412.0,1141.8L1416.0,1142.2L1420.0,1142.6L1424.0,1143.0L1428.0,1143.4L1431.6,1143.8L1431.6,1150.8L1427.3,1150.3L1423.3,1149.9L1419.3,1149.5L1415.3,1149.1L1411.3,1148.7L1407.3,1148.3L1403.6,1147.9ZM1442.2,1144.8L1446.5,1145.2L1450.5,1145.6L1454.5,1146.0L1458.5,1146.4L1462.5,1146.8L1466.5,1147.2L1470.2,1147.5L1470.2,1154.5L1465.9,1154.1L1461.9,1153.7L1457.9,1153.3L1453.9,1153.0L1449.9,1152.6L1445.9,1152.2L1442.2,1151.8ZM1480.8,1148.5L1485.1,1148.9L1489.1,1149.3L1493.1,1149.6L1497.1,1150.0L1501.1,1150.3L1505.1,1150.7L1508.8,1151.0L1508.8,1158.0L1504.5,1157.6L1500.5,1157.3L1496.5,1156.9L1492.5,1156.6L1488.5,1156.2L1484.5,1155.8L1480.8,1155.5ZM1519.3,1152.0L1523.6,1152.3L1527.6,1152.7L1531.6,1153.0L1535.6,1153.4L1539.6,1153.7L1543.6,1154.0L1547.3,1154.3L1547.3,1161.3L1543.0,1161.0L1539.0,1160.6L1535.0,1160.3L1531.0,1160.0L1527.0,1159.6L1523.0,1159.3L1519.3,1159.0ZM1560.0,1155.4L1564.3,1155.7L1568.3,1156.1L1572.3,1156.4L1576.3,1156.7L1580.3,1157.0L1584.3,1157.4L1588.0,1157.7L1588.0,1164.7L1583.7,1164.3L1579.7,1164.0L1575.7,1163.7L1571.7,1163.4L1567.7,1163.0L1563.7,1162.7L1560.0,1162.4ZM1599.5,1158.6L1603.8,1158.9L1607.8,1159.2L1611.8,1159.5L1615.8,1159.8L1619.8,1160.1L1623.8,1160.4L1627.5,1160.7L1627.5,1167.7L1623.2,1167.4L1619.2,1167.1L1615.2,1166.8L1611.2,1166.5L1607.2,1166.2L1603.2,1165.9L1599.5,1165.6ZM1638.7,1161.5L1643.0,1161.9L1647.0,1162.1L1651.0,1162.4L1655.0,1162.7L1659.0,1163.0L1663.0,1163.3L1666.7,1163.6L1666.7,1170.6L1662.5,1170.3L1658.5,1170.0L1654.5,1169.7L1650.5,1169.4L1646.5,1169.1L1642.5,1168.8L1638.7,1168.5ZM1677.5,1164.3L1681.7,1164.6L1685.7,1164.9L1689.7,1165.2L1693.7,1165.5L1697.7,1165.7L1701.7,1166.0L1705.5,1166.3L1705.5,1173.3L1701.3,1173.0L1697.3,1172.7L1693.3,1172.4L1689.3,1172.2L1685.3,1171.9L1681.3,1171.6L1677.5,1171.3ZM1716.7,1167.0L1721.0,1167.3L1725.0,1167.6L1729.0,1167.8L1733.0,1168.1L1737.0,1168.4L1741.0,1168.6L1744.7,1168.9L1744.7,1175.9L1740.5,1175.6L1736.5,1175.3L1732.5,1175.1L1728.5,1174.8L1724.5,1174.5L1720.5,1174.3L1716.7,1174.0ZM1755.8,1169.6L1760.0,1169.8L1764.0,1170.1L1768.0,1170.3L1772.0,1170.6L1776.0,1170.8L1780.0,1171.1L1783.8,1171.3L1783.8,1178.3L1779.5,1178.0L1775.5,1177.8L1771.5,1177.6L1767.5,1177.3L1763.5,1177.1L1759.5,1176.8L1755.8,1176.6ZM1795.0,1172.0L1799.2,1172.2L1803.2,1172.5L1807.2,1172.7L1811.2,1173.0L1815.2,1173.2L1819.2,1173.4L1823.0,1173.7L1823.0,1180.7L1818.8,1180.4L1814.8,1180.2L1810.8,1179.9L1806.8,1179.7L1802.8,1179.5L1798.8,1179.2L1795.0,1179.0ZM1834.2,1174.3L1838.5,1174.6L1842.4,1174.8L1846.4,1175.0L1850.4,1175.2L1854.4,1175.5L1858.4,1175.7L1862.2,1175.9L1862.2,1182.9L1858.1,1182.7L1854.1,1182.5L1850.1,1182.2L1846.1,1182.0L1842.1,1181.8L1838.0,1181.5L1834.2,1181.3ZM1873.2,1176.5L1877.4,1176.8L1881.4,1177.0L1885.4,1177.2L1889.4,1177.4L1893.4,1177.6L1897.4,1177.8L1901.2,1178.0L1901.2,1185.0L1897.1,1184.8L1893.1,1184.6L1889.1,1184.4L1885.1,1184.2L1881.1,1184.0L1877.1,1183.7L1873.2,1183.5ZM1912.5,1178.6L1916.7,1178.9L1920.7,1179.1L1924.7,1179.3L1928.7,1179.5L1932.7,1179.7L1936.7,1179.9L1940.5,1180.1L1940.5,1187.1L1936.3,1186.9L1932.3,1186.7L1928.3,1186.5L1924.3,1186.3L1920.3,1186.1L1916.3,1185.8L1912.5,1185.6ZM1951.8,1180.7L1955.9,1180.9L1959.9,1181.1L1963.9,1181.3L1967.9,1181.5L1971.9,1181.7L1975.9,1181.9L1979.8,1182.1L1979.8,1189.1L1975.6,1188.9L1971.6,1188.7L1967.6,1188.5L1963.6,1188.3L1959.6,1188.1L1955.6,1187.9L1951.8,1187.7ZM1990.8,1182.6L1994.9,1182.8L1998.9,1183.0L2002.9,1183.2L2006.9,1183.4L2010.9,1183.6L2014.9,1183.8L2018.8,1183.9L2018.8,1190.9L2014.6,1190.7L2010.6,1190.6L2006.6,1190.4L2002.6,1190.2L1998.6,1190.0L1994.6,1189.8L1990.8,1189.6ZM2030.0,1184.5L2032.9,1184.6L2035.6,1184.7L2038.2,1184.8L2038.2,1191.8L2035.3,1191.7L2032.6,1191.6L2030.0,1191.5Z"/>
<path id="curve-red" fill="#ff0000" d="M226.7,49.8L231.4,52.9L233.5,55.6L235.3,58.3L236.8,61.0L238.2,63.8L239.5,66.6L240.7,69.4L241.9,72.3L243.0,75.1L244.0,78.0L245.1,80.8L246.1,83.7L247.0,86.5L248.0,89.4L248.9,92.3L249.8,95.2L250.7,98.0L251.6,100.9L252.5,103.8L253.3,106.7L254.2,109.6L255.0,112.5L255.8,115.4L256.6,118.3L257.4,121.2L258.2,124.1L259.0,127.0L259.8,129.9L260.6,132.8L261.4,135.7L262.1,138.6L262.9,141.5L263.7,144.4L264.4,147.3L265.2,150.2L265.9,153.1L266.6,156.0L267.4,158.9L268.1,161.8L268.9,164.7L269.6,167.6L270.3,170.6L271.0,173.5L271.8,176.4L272.5,179.3L273.2,182.2L273.9,185.1L274.7,188.0L275.4,190.9L276.1,193.8L276.8,196.8L277.5,199.7L278.2,202.6L279.0,205.5L279.7,208.4L280.4,211.3L281.1,214.2L281.8,217.1L282.5,220.1L283.2,223.0L283.9,225.9L284.7,228.8L285.4,231.7L286.1,234.6L286.8,237.5L287.5,240.4L288.2,243.4L288.9,246.3L289.6,249.2L290.4,252.1L291.1,255.0L291.8,257.9L292.5,260.8L293.2,263.7L293.9,266.6L294.7,269.5L295.4,272.5L296.1,275.4L296.8,278.3L297.6,281.2L298.3,284.1L299.0,287.0L299.7,289.9L300.5,292.8L301.2,295.7L301.9,298.6L302.7,301.5L303.4,304.4L304.1,307.3L304.9,310.2L305.6,313.1L306.4,316.0L307.1,318.9L307.9,321.8L308.6,324.7L309.4,327.6L310.1,330.5L310.9,333.4L311.6,336.3L312.4,339.2L313.2,342.1L313.9,345.0L314.7,347.9L315.5,350.8L316.3,353.7L317.0,356.6L317.8,359.5L318.6,362.4L319.4,365.3L320.2,368.2L320.9,371.1L321.7,373.9L322.5,376.8L323.3,379.7L324.1,382.6L324.9,385.5L325.8,388.4L326.6,391.2L327.4,394.1L328.2,397.0L329.0,399.9L329.8,402.8L330.7,405.6L331.5,408.5L332.3,411.4L333.2,414.3L334.0,417.1L334.9,420.0L335.7,422.9L336.6,425.8L337.4,428.6L338.3,431.5L339.1,434.4L340.0,437.2L340.9,440.1L341.8,442.9L342.6,445.8L343.5,448.7L344.4,451.5L345.3,454.4L346.2,457.2L347.1,460.1L348.0,462.9L348.9,465.8L349.8,468.6L350.8,471.5L351.7,474.3L352.6,477.2L353.6,480.0L354.5,482.9L355.4,485.7L356.4,488.5L357.3,491.4L358.3,494.2L359.3,497.0L360.2,499.9L361.2,502.7L362.2,505.5L363.2,508.4L364.2,511.2L365.2,514.0L366.2,516.8L367.2,519.6L368.2,522.5L369.2,525.3L370.2,528.1L371.3,530.9L372.3,533.7L373.3,536.5L374.4,539.3L375.4,542.1L376.5,544.9L377.6,547.7L378.6,550.5L379.7,553.3L380.8,556.1L381.9,558.8L383.0,561.6L384.1,564.4L385.2,567.2L386.3,569.9L387.5,572.7L388.6,575.5L389.7,578.2L390.9,581.0L392.0,583.8L393.2,586.5L394.4,589.3L395.5,592.0L396.7,594.8L397.9,597.5L399.1,600.2L400.3,603.0L401.5,605.7L402.7,608.4L404.0,611.2L405.2,613.9L406.4,616.6L407.7,619.3L409.0,622.0L410.2,624.7L411.5,627.4L412.8,630.1L414.1,632.8L415.4,635.5L416.7,638.2L418.0,640.9L419.3,643.6L420.7,646.2L422.0,648.9L423.4,651.6L424.7,654.2L426.1,656.9L427.5,659.5L428.9,662.2L430.3,664.8L431.7,667.5L433.1,670.1L434.5,672.7L435.9,675.3L437.4,677.9L438.9,680.5L440.3,683.1L441.8,685.7L443.3,688.3L444.8,690.9L446.3,693.5L447.8,696.1L449.3,698.6L450.8,701.2L452.4,703.8L453.9,706.3L455.5,708.8L457.1,711.4L458.7,713.9L460.3,716.4L461.9,719.0L463.5,721.5L465.1,724.0L466.8,726.5L468.4,728.9L470.1,731.4L471.7,733.9L473.4,736.4L475.1,738.8L476.8,741.3L478.5,743.7L480.3,746.2L482.0,748.6L483.7,751.0L485.5,753.4L487.3,755.8L489.0,758.2L490.8,760.6L492.6,763.0L494.5,765.3L496.3,767.7L498.1,770.0L500.0,772.4L501.8,774.7L503.7,777.0L505.6,779.4L507.5,781.7L509.4,784.0L511.3,786.2L513.2,788.5L515.2,790.8L517.1,793.0L519.1,795.3L521.0,797.5L523.0,799.8L525.0,802.0L527.0,804.2L529.0,806.4L531.1,808.6L533.1,810.7L535.2,812.9L537.2,815.1L539.3,817.2L541.4,819.3L543.5,821.5L545.6,823.6L547.7,825.7L549.8,827.8L552.0,829.8L554.1,831.9L556.3,834.0L558.4,836.0L560.6,838.1L562.8,840.1L565.0,842.1L567.2,844.1L569.5,846.1L571.7,848.1L573.9,850.0L576.2,852.0L578.5,853.9L580.7,855.8L583.0,857.8L585.3,859.7L587.6,861.6L589.9,863.4L592.2,865.3L594.6,867.2L596.9,869.0L599.3,870.9L601.6,872.7L604.0,874.5L606.4,876.3L608.8,878.1L611.2,879.9L613.6,881.6L616.0,883.4L618.4,885.1L620.8,886.9L623.3,888.6L625.7,890.3L628.2,892.0L630.6,893.7L633.1,895.3L635.6,897.0L638.1,898.6L640.6,900.3L643.1,901.9L645.6,903.5L648.1,905.1L650.6,906.7L653.2,908.3L655.7,909.8L658.2,911.4L660.8,912.9L663.4,914.5L665.9,916.0L668.5,917.5L671.1,919.0L673.7,920.5L676.3,922.0L678.9,923.4L681.5,924.9L684.1,926.3L686.7,927.8L689.3,929.2L692.0,930.6L694.6,932.0L697.2,933.4L699.9,934.8L702.5,936.1L705.2,937.5L707.9,938.8L710.5,940.2L713.2,941.5L715.9,942.8L718.6,944.1L721.3,945.4L723.9,946.7L726.6,948.0L729.3,949.3L732.1,950.5L734.8,951.8L737.5,953.0L740.2,954.2L742.9,955.5L745.7,956.7L748.4,957.9L751.1,959.1L753.9,960.2L756.6,961.4L759.4,962.6L762.1,963.7L764.9,964.9L767.7,966.0L770.4,967.1L773.2,968.3L776.0,969.4L778.7,970.5L781.5,971.6L784.3,972.7L787.1,973.7L789.9,974.8L792.7,975.9L795.5,976.9L798.3,978.0L801.1,979.0L803.9,980.0L806.7,981.1L809.5,982.1L812.3,983.1L815.1,984.1L818.0,985.1L820.8,986.0L823.6,987.0L826.4,988.0L829.3,989.0L832.1,989.9L834.9,990.9L837.8,991.8L840.6,992.7L843.5,993.6L846.3,994.6L849.2,995.5L852.0,996.4L854.9,997.3L857.7,998.2L860.6,999.1L863.4,999.9L866.3,1000.8L869.2,1001.7L872.0,1002.5L874.9,1003.4L877.8,1004.2L880.6,1005.1L883.5,1005.9L886.4,1006.7L889.2,1007.6L892.1,1008.4L895.0,1009.2L897.9,1010.0L900.8,1010.8L903.7,1011.6L906.5,1012.4L909.4,1013.1L912.3,1013.9L915.2,1014.7L918.1,1015.4L921.0,1016.2L923.9,1017.0L926.8,1017.7L929.7,1018.4L932.6,1019.2L935.5,1019.9L938.4,1020.6L941.3,1021.4L944.2,1022.1L947.1,1022.8L950.0,1023.5L952.9,1024.2L955.8,1024.9L958.7,1025.6L961.7,1026.3L964.6,1027.0L967.5,1027.6L970.4,1028.3L973.3,1029.0L976.2,1029.6L979.2,1030.3L982.1,1031.0L985.0,1031.6L987.9,1032.3L990.8,1032.9L993.8,1033.5L996.7,1034.2L999.6,1034.8L1002.5,1035.4L1005.5,1036.0L1008.4,1036.7L1011.3,1037.3L1014.3,1037.9L1017.2,1038.5L1020.1,1039.1L1023.1,1039.7L1026.0,1040.3L1028.9,1040.9L1031.9,1041.5L1034.8,1042.0L1037.7,1042.6L1040.7,1043.2L1043.6,1043.8L1046.6,1044.3L1049.5,1044.9L1052.4,1045.4L1055.4,1046.0L1058.3,1046.5L1061.3,1047.1L1064.2,1047.6L1067.2,1048.2L1070.1,1048.7L1073.0,1049.3L1076.0,1049.8L1078.9,1050.3L1081.9,1050.8L1084.8,1051.4L1087.8,1051.9L1090.7,1052.4L1093.7,1052.9L1096.6,1053.4L1099.6,1053.9L1102.5,1054.4L1105.5,1054.9L1108.5,1055.4L1111.4,1055.9L1114.4,1056.4L1117.3,1056.9L1120.3,1057.4L1123.2,1057.9L1126.2,1058.3L1129.1,1058.8L1132.1,1059.3L1135.1,1059.8L1138.0,1060.2L1141.0,1060.7L1143.9,1061.1L1146.9,1061.6L1149.8,1062.1L1152.8,1062.5L1155.8,1063.0L1158.7,1063.4L1161.7,1063.9L1164.7,1064.3L1167.6,1064.7L1170.6,1065.2L1173.5,1065.6L1176.5,1066.0L1179.5,1066.5L1182.4,1066.9L1185.4,1067.3L1188.4,1067.8L1191.3,1068.2L1194.3,1068.6L1197.3,1069.0L1200.2,1069.4L1203.2,1069.8L1206.2,1070.2L1209.1,1070.6L1212.1,1071.1L1215.1,1071.5L1218.0,1071.9L1221.0,1072.3L1224.0,1072.6L1226.9,1073.0L1229.9,1073.4L1232.9,1073.8L1235.9,1074.2L1238.8,1074.6L1241.8,1075.0L1244.8,1075.4L1247.7,1075.7L1250.7,1076.1L1253.7,1076.5L1256.7,1076.9L1259.6,1077.2L1262.6,1077.6L1265.6,1078.0L1268.6,1078.3L1271.5,1078.7L1274.5,1079.0L1277.5,1079.4L1280.5,1079.8L1283.4,1080.1L1286.4,1080.5L1289.4,1080.8L1292.4,1081.2L1295.3,1081.5L1298.3,1081.9L1301.3,1082.2L1304.3,1082.5L1307.2,1082.9L1310.2,1083.2L1313.2,1083.6L1316.2,1083.9L1319.1,1084.2L1322.1,1084.6L1325.1,1084.9L1328.1,1085.2L1331.1,1085.5L1334.0,1085.9L1337.0,1086.2L1340.0,1086.5L1343.0,1086.8L1346.0,1087.2L1348.9,1087.5L1351.9,1087.8L1354.9,1088.1L1357.9,1088.4L1360.9,1088.7L1363.8,1089.0L1366.8,1089.3L1369.8,1089.6L1372.8,1090.0L1375.8,1090.3L1378.7,1090.6L1381.7,1090.9L1384.7,1091.2L1387.7,1091.5L1390.7,1091.7L1393.6,1092.0L1396.6,1092.3L1399.6,1092.6L1402.6,1092.9L1405.6,1093.2L1408.6,1093.5L1411.5,1093.8L1414.5,1094.1L1417.5,1094.3L1420.5,1094.6L1423.5,1094.9L1426.5,1095.2L1429.4,1095.5L1432.4,1095.7L1435.4,1096.0L1438.4,1096.3L1441.4,1096.6L1444.4,1096.8L1447.3,1097.1L1450.3,1097.4L1453.3,1097.6L1456.3,1097.9L1459.3,1098.2L1462.3,1098.4L1465.3,1098.7L1468.2,1099.0L1471.2,1099.2L1474.2,1099.5L1477.2,1099.7L1480.2,1100.0L1483.2,1100.2L1486.2,1100.5L1489.1,1100.8L1492.1,1101.0L1495.1,1101.3L1498.1,1101.5L1501.1,1101.8L1504.1,1102.0L1507.1,1102.3L1510.0,1102.5L1513.0,1102.7L1516.0,1103.0L1519.0,1103.2L1522.0,1103.5L1525.0,1103.7L1528.0,1103.9L1531.0,1104.2L1533.9,1104.4L1536.9,1104.7L1539.9,1104.9L1542.9,1105.1L1545.9,1105.4L1548.9,1105.6L1551.9,1105.8L1554.9,1106.1L1557.9,1106.3L1560.8,1106.5L1563.8,1106.7L1566.8,1107.0L1569.8,1107.2L1572.8,1107.4L1575.8,1107.6L1578.8,1107.9L1581.8,1108.1L1584.7,1108.3L1587.7,1108.5L1590.7,1108.7L1593.7,1109.0L1596.7,1109.2L1599.7,1109.4L1602.7,1109.6L1605.7,1109.8L1608.7,1110.0L1611.7,1110.2L1614.6,1110.5L1617.6,1110.7L1620.6,1110.9L1623.6,1111.1L1626.6,1111.3L1629.6,1111.5L1632.6,1111.7L1635.6,1111.9L1638.6,1112.1L1641.6,1112.3L1644.5,1112.5L1647.5,1112.7L1650.5,1112.9L1653.5,1113.1L1656.5,1113.3L1659.5,1113.5L1662.5,1113.7L1665.5,1113.9L1668.5,1114.1L1671.5,1114.3L1674.5,1114.5L1677.4,1114.7L1680.4,1114.9L1683.4,1115.1L1686.4,1115.3L1689.4,1115.5L1692.4,1115.7L1695.4,1115.8L1698.4,1116.0L1701.4,1116.2L1704.4,1116.4L1707.4,1116.6L1710.3,1116.8L1713.3,1117.0L1716.3,1117.1L1719.3,1117.3L1722.3,1117.5L1725.3,1117.7L1728.3,1117.9L1731.3,1118.1L1734.3,1118.2L1737.3,1118.4L1740.3,1118.6L1743.3,1118.8L1746.3,1119.0L1749.2,1119.1L1752.2,1119.3L1755.2,1119.5L1758.2,1119.7L1761.2,1119.8L1764.2,1120.0L1767.2,1120.2L1770.2,1120.3L1773.2,1120.5L1776.2,1120.7L1779.2,1120.9L1782.2,1121.0L1785.2,1121.2L1788.1,1121.4L1791.1,1121.5L1794.1,1121.7L1797.1,1121.9L1800.1,1122.0L1803.1,1122.2L1806.1,1122.4L1809.1,1122.5L1812.1,1122.7L1815.1,1122.9L1818.1,1123.0L1821.1,1123.2L1824.1,1123.3L1827.1,1123.5L1830.0,1123.7L1833.0,1123.8L1836.0,1124.0L1839.0,1124.1L1842.0,1124.3L1845.0,1124.5L1848.0,1124.6L1851.0,1124.8L1854.0,1124.9L1857.0,1125.1L1860.0,1125.2L1863.0,1125.4L1866.0,1125.5L1869.0,1125.7L1872.0,1125.8L1875.0,1126.0L1877.9,1126.1L1880.9,1126.3L1883.9,1126.4L1886.9,1126.6L1889.9,1126.7L1892.9,1126.9L1895.9,1127.0L1898.9,1127.2L1901.9,1127.3L1904.9,1127.5L1907.9,1127.6L1910.9,1127.8L1913.9,1127.9L1916.9,1128.1L1919.9,1128.2L1922.9,1128.3L1925.8,1128.5L1928.8,1128.6L1931.8,1128.8L1934.8,1128.9L1937.8,1129.1L1940.8,1129.2L1943.8,1129.3L1946.8,1129.5L1949.8,1129.6L1952.8,1129.8L1955.8,1129.9L1958.8,1130.0L1961.8,1130.2L1964.8,1130.3L1967.8,1130.4L1970.8,1130.6L1973.8,1130.7L1976.8,1130.8L1979.7,1131.0L1982.7,1131.1L1985.7,1131.3L1988.7,1131.4L1991.7,1131.5L1994.7,1131.6L1997.7,1131.8L2000.7,1131.9L2003.7,1132.0L2006.7,1132.2L2009.7,1132.3L2012.7,1132.4L2015.7,1132.6L2018.7,1132.7L2021.7,1132.8L2024.7,1132.9L2027.7,1133.1L2030.7,1133.2L2033.7,1133.3L2036.7,1133.5L2039.5,1133.6L2039.5,1140.6L2036.4,1140.4L2033.4,1140.3L2030.4,1140.2L2027.4,1140.1L2024.4,1139.9L2021.4,1139.8L2018.4,1139.7L2015.4,1139.5L2012.4,1139.4L2009.4,1139.3L2006.4,1139.2L2003.4,1139.0L2000.4,1138.9L1997.4,1138.8L1994.4,1138.6L1991.4,1138.5L1988.4,1138.4L1985.4,1138.2L1982.4,1138.1L1979.4,1138.0L1976.4,1137.8L1973.4,1137.7L1970.4,1137.6L1967.5,1137.4L1964.5,1137.3L1961.5,1137.2L1958.5,1137.0L1955.5,1136.9L1952.5,1136.7L1949.5,1136.6L1946.5,1136.5L1943.5,1136.3L1940.5,1136.2L1937.5,1136.0L1934.5,1135.9L1931.5,1135.8L1928.5,1135.6L1925.5,1135.5L1922.5,1135.3L1919.5,1135.2L1916.5,1135.0L1913.5,1134.9L1910.5,1134.8L1907.5,1134.6L1904.5,1134.5L1901.6,1134.3L1898.6,1134.2L1895.6,1134.0L1892.6,1133.9L1889.6,1133.7L1886.6,1133.6L1883.6,1133.4L1880.6,1133.3L1877.6,1133.1L1874.6,1133.0L1871.6,1132.8L1868.6,1132.7L1865.6,1132.5L1862.6,1132.4L1859.6,1132.2L1856.6,1132.1L1853.6,1131.9L1850.6,1131.7L1847.6,1131.6L1844.6,1131.4L1841.7,1131.3L1838.7,1131.1L1835.7,1131.0L1832.7,1130.8L1829.7,1130.6L1826.7,1130.5L1823.7,1130.3L1820.7,1130.2L1817.7,1130.0L1814.7,1129.8L1811.7,1129.7L1808.7,1129.5L1805.7,1129.3L1802.7,1129.2L1799.7,1129.0L1796.7,1128.8L1793.7,1128.7L1790.7,1128.5L1787.8,1128.3L1784.8,1128.2L1781.8,1128.0L1778.8,1127.8L1775.8,1127.7L1772.8,1127.5L1769.8,1127.3L1766.8,1127.2L1763.8,1127.0L1760.8,1126.8L1757.8,1126.6L1754.8,1126.5L1751.8,1126.3L1748.8,1126.1L1745.8,1125.9L1742.8,1125.8L1739.9,1125.6L1736.9,1125.4L1733.9,1125.2L1730.9,1125.0L1727.9,1124.9L1724.9,1124.7L1721.9,1124.5L1718.9,1124.3L1715.9,1124.1L1712.9,1123.9L1709.9,1123.8L1706.9,1123.6L1703.9,1123.4L1700.9,1123.2L1697.9,1123.0L1694.9,1122.8L1692.0,1122.6L1689.0,1122.4L1686.0,1122.2L1683.0,1122.1L1680.0,1121.9L1677.0,1121.7L1674.0,1121.5L1671.0,1121.3L1668.0,1121.1L1665.0,1120.9L1662.0,1120.7L1659.0,1120.5L1656.0,1120.3L1653.1,1120.1L1650.1,1119.9L1647.1,1119.7L1644.1,1119.5L1641.1,1119.3L1638.1,1119.1L1635.1,1118.9L1632.1,1118.7L1629.1,1118.5L1626.1,1118.3L1623.1,1118.0L1620.1,1117.8L1617.1,1117.6L1614.2,1117.4L1611.2,1117.2L1608.2,1117.0L1605.2,1116.8L1602.2,1116.6L1599.2,1116.4L1596.2,1116.1L1593.2,1115.9L1590.2,1115.7L1587.2,1115.5L1584.2,1115.3L1581.2,1115.0L1578.3,1114.8L1575.3,1114.6L1572.3,1114.4L1569.3,1114.1L1566.3,1113.9L1563.3,1113.7L1560.3,1113.5L1557.3,1113.2L1554.3,1113.0L1551.3,1112.8L1548.3,1112.6L1545.4,1112.3L1542.4,1112.1L1539.4,1111.9L1536.4,1111.6L1533.4,1111.4L1530.4,1111.1L1527.4,1110.9L1524.4,1110.7L1521.4,1110.4L1518.4,1110.2L1515.5,1109.9L1512.5,1109.7L1509.5,1109.5L1506.5,1109.2L1503.5,1109.0L1500.5,1108.7L1497.5,1108.5L1494.5,1108.2L1491.5,1108.0L1488.6,1107.7L1485.6,1107.5L1482.6,1107.2L1479.6,1106.9L1476.6,1106.7L1473.6,1106.4L1470.6,1106.2L1467.6,1105.9L1464.6,1105.6L1461.7,1105.4L1458.7,1105.1L1455.7,1104.9L1452.7,1104.6L1449.7,1104.3L1446.7,1104.0L1443.7,1103.8L1440.7,1103.5L1437.8,1103.2L1434.8,1103.0L1431.8,1102.7L1428.8,1102.4L1425.8,1102.1L1422.8,1101.8L1419.8,1101.6L1416.9,1101.3L1413.9,1101.0L1410.9,1100.7L1407.9,1100.4L1404.9,1100.1L1401.9,1099.8L1398.9,1099.6L1395.9,1099.3L1393.0,1099.0L1390.0,1098.7L1387.0,1098.4L1384.0,1098.1L1381.0,1097.8L1378.0,1097.5L1375.1,1097.2L1372.1,1096.9L1369.1,1096.6L1366.1,1096.3L1363.1,1096.0L1360.1,1095.6L1357.1,1095.3L1354.2,1095.0L1351.2,1094.7L1348.2,1094.4L1345.2,1094.1L1342.2,1093.8L1339.2,1093.4L1336.3,1093.1L1333.3,1092.8L1330.3,1092.5L1327.3,1092.1L1324.3,1091.8L1321.4,1091.5L1318.4,1091.1L1315.4,1090.8L1312.4,1090.5L1309.4,1090.1L1306.4,1089.8L1303.5,1089.5L1300.5,1089.1L1297.5,1088.8L1294.5,1088.4L1291.5,1088.1L1288.6,1087.7L1285.6,1087.4L1282.6,1087.0L1279.6,1086.7L1276.6,1086.3L1273.7,1085.9L1270.7,1085.6L1267.7,1085.2L1264.7,1084.9L1261.8,1084.5L1258.8,1084.1L1255.8,1083.7L1252.8,1083.4L1249.8,1083.0L1246.9,1082.6L1243.9,1082.2L1240.9,1081.9L1237.9,1081.5L1235.0,1081.1L1232.0,1080.7L1229.0,1080.3L1226.0,1079.9L1223.1,1079.5L1220.1,1079.1L1217.1,1078.7L1214.1,1078.3L1211.2,1077.9L1208.2,1077.5L1205.2,1077.1L1202.3,1076.7L1199.3,1076.3L1196.3,1075.9L1193.3,1075.5L1190.4,1075.0L1187.4,1074.6L1184.4,1074.2L1181.4,1073.8L1178.5,1073.3L1175.5,1072.9L1172.5,1072.5L1169.6,1072.0L1166.6,1071.6L1163.6,1071.1L1160.7,1070.7L1157.7,1070.3L1154.7,1069.8L1151.8,1069.4L1148.8,1068.9L1145.8,1068.4L1142.9,1068.0L1139.9,1067.5L1136.9,1067.0L1134.0,1066.6L1131.0,1066.1L1128.0,1065.6L1125.1,1065.2L1122.1,1064.7L1119.2,1064.2L1116.2,1063.7L1113.2,1063.2L1110.3,1062.7L1107.3,1062.2L1104.3,1061.7L1101.4,1061.2L1098.4,1060.7L1095.5,1060.2L1092.5,1059.7L1089.6,1059.2L1086.6,1058.7L1083.6,1058.2L1080.7,1057.6L1077.7,1057.1L1074.8,1056.6L1071.8,1056.0L1068.9,1055.5L1065.9,1055.0L1063.0,1054.4L1060.0,1053.9L1057.1,1053.3L1054.1,1052.8L1051.2,1052.2L1048.2,1051.6L1045.3,1051.1L1042.3,1050.5L1039.4,1049.9L1036.4,1049.4L1033.5,1048.8L1030.5,1048.2L1027.6,1047.6L1024.6,1047.0L1021.7,1046.4L1018.8,1045.8L1015.8,1045.2L1012.9,1044.6L1009.9,1044.0L1007.0,1043.4L1004.1,1042.8L1001.1,1042.1L998.2,1041.5L995.2,1040.9L992.3,1040.2L989.4,1039.6L986.4,1038.9L983.5,1038.3L980.6,1037.6L977.6,1037.0L974.7,1036.3L971.8,1035.6L968.9,1035.0L965.9,1034.3L963.0,1033.6L960.1,1032.9L957.2,1032.2L954.2,1031.5L951.3,1030.8L948.4,1030.1L945.5,1029.4L942.6,1028.7L939.7,1028.0L936.7,1027.2L933.8,1026.5L930.9,1025.8L928.0,1025.0L925.1,1024.3L922.2,1023.5L919.3,1022.8L916.4,1022.0L913.5,1021.2L910.6,1020.5L907.7,1019.7L904.8,1018.9L901.9,1018.1L899.0,1017.3L896.1,1016.5L893.2,1015.7L890.3,1014.9L887.4,1014.0L884.5,1013.2L881.6,1012.4L878.7,1011.5L875.9,1010.7L873.0,1009.8L870.1,1009.0L867.2,1008.1L864.3,1007.2L861.5,1006.4L858.6,1005.5L855.7,1004.6L852.8,1003.7L850.0,1002.8L847.1,1001.9L844.3,1000.9L841.4,1000.0L838.5,999.1L835.7,998.1L832.8,997.2L830.0,996.2L827.1,995.3L824.3,994.3L821.4,993.3L818.6,992.3L815.8,991.3L812.9,990.3L810.1,989.3L807.3,988.3L804.4,987.3L801.6,986.3L798.8,985.2L796.0,984.2L793.2,983.1L790.3,982.0L787.5,981.0L784.7,979.9L781.9,978.8L779.1,977.7L776.3,976.6L773.5,975.5L770.7,974.4L768.0,973.2L765.2,972.1L762.4,970.9L759.6,969.8L756.8,968.6L754.1,967.4L751.3,966.2L748.5,965.0L745.8,963.8L743.0,962.6L740.3,961.4L737.5,960.2L734.8,958.9L732.1,957.7L729.3,956.4L726.6,955.1L723.9,953.8L721.2,952.5L718.5,951.2L715.7,949.9L713.0,948.6L710.3,947.3L707.6,945.9L705.0,944.6L702.3,943.2L699.6,941.8L696.9,940.4L694.3,939.0L691.6,937.6L688.9,936.2L686.3,934.8L683.6,933.3L681.0,931.9L678.4,930.4L675.8,929.0L673.1,927.5L670.5,926.0L667.9,924.5L665.3,923.0L662.7,921.4L660.1,919.9L657.5,918.3L655.0,916.8L652.4,915.2L649.8,913.6L647.3,912.0L644.7,910.4L642.2,908.8L639.7,907.1L637.1,905.5L634.6,903.8L632.1,902.2L629.6,900.5L627.1,898.8L624.6,897.1L622.2,895.4L619.7,893.7L617.2,891.9L614.8,890.2L612.3,888.4L609.9,886.6L607.5,884.8L605.1,883.0L602.7,881.2L600.3,879.4L597.9,877.6L595.5,875.7L593.1,873.9L590.7,872.0L588.4,870.1L586.1,868.2L583.7,866.3L581.4,864.4L579.1,862.5L576.8,860.5L574.5,858.6L572.2,856.6L569.9,854.6L567.6,852.6L565.4,850.6L563.1,848.6L560.9,846.6L558.7,844.6L556.5,842.5L554.3,840.5L552.1,838.4L549.9,836.3L547.7,834.2L545.6,832.1L543.4,830.0L541.3,827.9L539.1,825.8L537.0,823.6L534.9,821.5L532.8,819.3L530.7,817.1L528.7,814.9L526.6,812.7L524.6,810.5L522.5,808.3L520.5,806.1L518.5,803.8L516.5,801.6L514.5,799.3L512.5,797.1L510.5,794.8L508.6,792.5L506.6,790.2L504.7,787.9L502.7,785.6L500.8,783.2L498.9,780.9L497.0,778.6L495.2,776.2L493.3,773.8L491.4,771.5L489.6,769.1L487.7,766.7L485.9,764.3L484.1,761.9L482.3,759.5L480.5,757.1L478.7,754.6L477.0,752.2L475.2,749.7L473.5,747.3L471.7,744.8L470.0,742.4L468.3,739.9L466.6,737.4L464.9,734.9L463.2,732.4L461.6,729.9L459.9,727.4L458.2,724.9L456.6,722.3L455.0,719.8L453.4,717.3L451.8,714.7L450.2,712.2L448.6,709.6L447.0,707.0L445.5,704.5L443.9,701.9L442.4,699.3L440.8,696.7L439.3,694.1L437.8,691.5L436.3,688.9L434.8,686.3L433.3,683.7L431.8,681.0L430.4,678.4L428.9,675.8L427.5,673.1L426.1,670.5L424.6,667.8L423.2,665.2L421.8,662.5L420.4,659.8L419.0,657.2L417.7,654.5L416.3,651.8L414.9,649.1L413.6,646.4L412.2,643.7L410.9,641.0L409.6,638.3L408.3,635.6L407.0,632.9L405.7,630.2L404.4,627.5L403.1,624.8L401.8,622.0L400.6,619.3L399.3,616.6L398.1,613.9L396.8,611.1L395.6,608.4L394.4,605.6L393.1,602.9L391.9,600.1L390.7,597.4L389.5,594.6L388.3,591.8L387.2,589.1L386.0,586.3L384.8,583.5L383.7,580.8L382.5,578.0L381.4,575.2L380.2,572.4L379.1,569.6L378.0,566.8L376.9,564.0L375.8,561.3L374.7,558.5L373.6,555.7L372.5,552.9L371.4,550.0L370.3,547.2L369.3,544.4L368.2,541.6L367.1,538.8L366.1,536.0L365.0,533.2L364.0,530.4L363.0,527.5L361.9,524.7L360.9,521.9L359.9,519.1L358.9,516.2L357.9,513.4L356.9,510.6L355.9,507.7L354.9,504.9L353.9,502.0L353.0,499.2L352.0,496.4L351.0,493.5L350.1,490.7L349.1,487.8L348.2,485.0L347.2,482.1L346.3,479.3L345.3,476.4L344.4,473.6L343.5,470.7L342.6,467.8L341.6,465.0L340.7,462.1L339.8,459.3L338.9,456.4L338.0,453.5L337.1,450.7L336.2,447.8L335.3,444.9L334.5,442.1L333.6,439.2L332.7,436.3L331.8,433.4L331.0,430.6L330.1,427.7L329.3,424.8L328.4,421.9L327.6,419.0L326.7,416.2L325.9,413.3L325.0,410.4L324.2,407.5L323.4,404.6L322.5,401.7L321.7,398.9L320.9,396.0L320.1,393.1L319.2,390.2L318.4,387.3L317.6,384.4L316.8,381.5L316.0,378.6L315.2,375.7L314.4,372.8L313.6,369.9L312.8,367.1L312.1,364.2L311.3,361.3L310.5,358.4L309.7,355.5L308.9,352.6L308.2,349.7L307.4,346.8L306.6,343.9L305.8,341.0L305.1,338.1L304.3,335.2L303.6,332.3L302.8,329.3L302.1,326.4L301.3,323.5L300.5,320.6L299.8,317.7L299.1,314.8L298.3,311.9L297.6,309.0L296.8,306.1L296.1,303.2L295.3,300.3L294.6,297.4L293.9,294.5L293.1,291.6L292.4,288.7L291.7,285.7L291.0,282.8L290.2,279.9L289.5,277.0L288.8,274.1L288.1,271.2L287.3,268.3L286.6,265.4L285.9,262.5L285.2,259.5L284.5,256.6L283.7,253.7L283.0,250.8L282.3,247.9L281.6,245.0L280.9,242.1L280.2,239.2L279.5,236.2L278.8,233.3L278.0,230.4L277.3,227.5L276.6,224.6L275.9,221.7L275.2,218.8L274.5,215.9L273.8,212.9L273.1,210.0L272.3,207.1L271.6,204.2L270.9,201.3L270.2,198.4L269.5,195.5L268.8,192.6L268.1,189.7L267.3,186.7L266.6,183.8L265.9,180.9L265.2,178.0L264.4,175.1L263.7,172.2L263.0,169.3L262.3,166.4L261.5,163.5L260.8,160.6L260.1,157.7L259.3,154.8L258.6,151.9L257.8,149.0L257.1,146.1L256.3,143.2L255.6,140.3L254.8,137.4L254.0,134.5L253.3,131.6L252.5,128.7L251.7,125.8L250.9,123.0L250.1,120.1L249.3,117.2L248.5,114.3L247.7,111.4L246.9,108.6L246.0,105.7L245.2,102.9L244.3,100.0L243.4,97.1L242.5,94.3L241.6,91.5L240.7,88.6L239.8,85.8L238.8,83.0L237.8,80.2L236.8,77.4L235.8,74.7L234.7,71.9L233.5,69.2L232.4,66.6L231.1,64.0L229.8,61.4L228.4,59.1L226.9,57.1L226.7,56.8Z"/>
</g>
<g id="axes" fill="#000">
<rect x="225.30" y="51.90" width="1815.60" height="2.80"/><rect x="225.30" y="1388.10" width="1815.60" height="2.80"/><rect x="225.30" y="51.90" width="2.80" height="1339.00"/><rect x="2038.10" y="51.90" width="2.80" height="1339.00"/>
<rect x="586.00" y="1368.20" width="2.80" height="21.30"/><rect x="586.00" y="53.30" width="2.80" height="18.20"/><rect x="950.00" y="1368.20" width="2.80" height="21.30"/><rect x="950.00" y="53.30" width="2.80" height="18.20"/><rect x="1310.90" y="1368.20" width="2.80" height="21.30"/><rect x="1310.90" y="53.30" width="2.80" height="18.20"/><rect x="1674.00" y="1368.20" width="2.80" height="21.30"/><rect x="1674.00" y="53.30" width="2.80" height="18.20"/>
<rect x="226.70" y="273.20" width="18.30" height="2.80"/><rect x="2018.50" y="273.20" width="21.00" height="2.80"/><rect x="226.70" y="497.20" width="18.30" height="2.80"/><rect x="2018.50" y="497.20" width="21.00" height="2.80"/><rect x="226.70" y="718.30" width="18.30" height="2.80"/><rect x="2018.50" y="718.30" width="21.00" height="2.80"/><rect x="226.70" y="942.50" width="18.30" height="2.80"/><rect x="2018.50" y="942.50" width="21.00" height="2.80"/><rect x="226.70" y="1163.80" width="18.30" height="2.80"/><rect x="2018.50" y="1163.80" width="21.00" height="2.80"/>
</g>
<g id="xticklabels">
<text x="212.0" y="1445.8">0</text>
<text x="541.9 572.7 603.6" y="1445.8">200</text>
<text x="905.6 936.5 967.3" y="1445.8">400</text>
<text x="1266.2 1297.1 1327.9" y="1445.8">600</text>
<text x="1629.6 1660.5 1691.3" y="1445.8">800</text>
<text x="1976.8 2007.6 2038.5 2069.3" y="1445.8">1000</text>
</g>
<g id="yticklabels">
<text x="91.4 122.2 153.1 183.9" y="70.0">1200</text>
<text x="91.4 122.2 153.1 183.9" y="291.3">1000</text>
<text x="122.2 153.1 183.9" y="515.3">800</text>
<text x="122.2 153.1 183.9" y="736.4">600</text>
<text x="122.2 153.1 183.9" y="960.6">400</text>
<text x="122.2 153.1 183.9" y="1181.9">200</text>
<text x="183.9" y="1406.2">0</text>
</g>
<text x="1036.8 1069.9 1081.2 1126.6 1156.2 1174.6 1204.1" y="1507.8" id="xlabel">Time(d)</text>
<g id="ylabel" transform="translate(62.8,900.0) rotate(-90)">
<text x="5.8 40.8 58.6 90.2 118.8 150.6 178.0 192.4 204.3 233.7 264.8 281.6 298.4 311.2 340.6" y="0.0">Production(t/d)</text>
</g>
<g id="legend">
<rect x="1152.9" y="114.9" width="817.00" height="291.30" fill="#fff" stroke="#000" stroke-width="2.8"/>
<line class="lg" stroke="#fb7e00" stroke-width="5.6" stroke-dasharray="28 11.2 2.8 11.2" stroke-dashoffset="0" x1="1176.65" y1="152.5" x2="1313.6" y2="152.5"/><text x="1327.6 1363.2 1391.4 1408.4 1420.2 1451.6 1480.8 1497.3 1526.0 1571.0 1584.0 1609.4 1637.7 1648.2 1677.6 1707.4 1739.0 1770.0 1783.7 1814.6" y="175.0">Variogram value=0.90</text>
<line class="lg" stroke="#007e00" stroke-width="5.6" stroke-dasharray="2.8 11.2" stroke-dashoffset="0" x1="1176.65" y1="222.8" x2="1313.6" y2="222.8"/><text x="1327.6 1363.2 1391.4 1408.4 1420.2 1451.6 1480.8 1497.3 1526.0 1571.0 1584.0 1609.4 1637.7 1648.2 1677.6 1707.4 1739.0 1770.0 1783.6 1814.6" y="244.9">Variogram value=0.75</text>
<line class="lg" stroke="#0000ff" stroke-width="5.6" stroke-dasharray="28 11.2" stroke-dashoffset="28" x1="1176.65" y1="292.9" x2="1313.6" y2="292.9"/><text x="1327.6 1363.2 1391.4 1408.4 1420.2 1451.6 1480.8 1497.3 1526.0 1571.0 1584.0 1609.4 1637.7 1648.2 1677.6 1707.4 1739.0 1770.0 1783.5 1814.6" y="315.0">Variogram value=0.60</text>
<line class="lg" stroke="#ff0000" stroke-width="5.6" x1="1176.65" y1="362.7" x2="1313.6" y2="362.7"/><text x="1327.6 1363.2 1391.4 1408.4 1420.2 1451.6 1480.8 1497.3 1526.0 1571.0 1584.0 1609.4 1637.7 1648.2 1677.6 1707.4 1739.0 1770.0 1783.8 1814.6" y="384.9">Variogram value=0.45</text>
</g>
</svg>
</body>
</html>
